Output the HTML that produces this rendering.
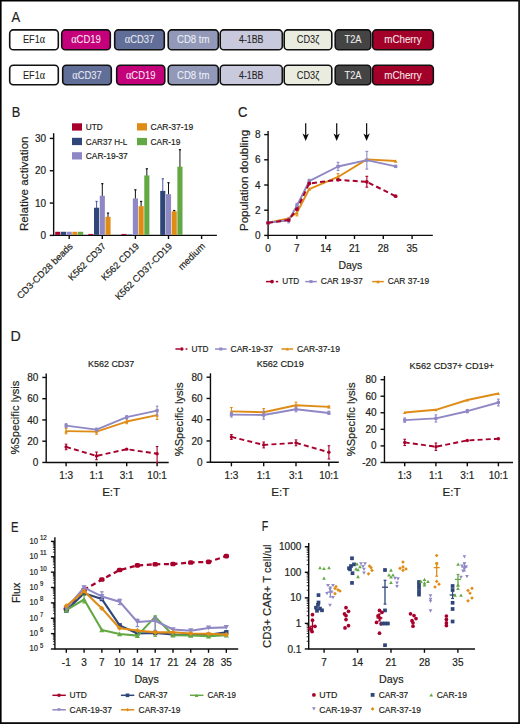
<!DOCTYPE html>
<html><head><meta charset="utf-8"><style>
html,body{margin:0;padding:0;background:#fff;}
svg{display:block;}
text{font-family:"Liberation Sans",sans-serif;}
</style></head><body>
<svg width="520" height="724" viewBox="0 0 520 724" fill="#231f20">
<rect x="0" y="0" width="520" height="724" fill="#fff"/>
<rect x="0.00" y="0.00" width="520.00" height="1.50" fill="#000"/>
<rect x="0.00" y="0.00" width="1.60" height="724.00" fill="#000"/>
<rect x="518.20" y="0.00" width="1.80" height="724.00" fill="#1a1a1a"/>
<rect x="0.00" y="722.20" width="520.00" height="1.80" fill="#0a0a0a"/>
<text x="11.50" y="21.60" font-size="15.2" textLength="8.7" lengthAdjust="spacingAndGlyphs" stroke="#231f20" stroke-width="0.2">A</text>
<text x="11.87" y="117.40" font-size="15.2" textLength="8.56" lengthAdjust="spacingAndGlyphs" stroke="#231f20" stroke-width="0.2">B</text>
<text x="238.05" y="117.40" font-size="15.2" textLength="9.39" lengthAdjust="spacingAndGlyphs" stroke="#231f20" stroke-width="0.2">C</text>
<text x="10.56" y="340.50" font-size="15.2" textLength="10.27" lengthAdjust="spacingAndGlyphs" stroke="#231f20" stroke-width="0.2">D</text>
<text x="11.10" y="531.50" font-size="15.2" textLength="7.5" lengthAdjust="spacingAndGlyphs" stroke="#231f20" stroke-width="0.2">E</text>
<text x="261.85" y="531.40" font-size="15.2" textLength="6.5" lengthAdjust="spacingAndGlyphs" stroke="#231f20" stroke-width="0.2">F</text>
<rect x="9.70" y="29.90" width="48.60" height="19.90" rx="3.6" ry="3.6" fill="#ffffff" stroke="#111" stroke-width="1.6"/>
<text x="34.00" y="43.45" font-size="10.6" text-anchor="middle" textLength="22" lengthAdjust="spacingAndGlyphs" fill="#222" stroke="#222" stroke-width="0.08">EF1<tspan font-family="Liberation Serif" font-size="11.6">&#945;</tspan></text>
<rect x="61.70" y="29.90" width="48.60" height="19.90" rx="3.6" ry="3.6" fill="#c4007a" stroke="#111" stroke-width="1.6"/>
<text x="86.00" y="43.45" font-size="10.6" text-anchor="middle" textLength="29.7" lengthAdjust="spacingAndGlyphs" fill="#f4e6f0" stroke="#f4e6f0" stroke-width="0.08"><tspan font-family="Liberation Serif" font-size="11.6">&#945;</tspan>CD19</text>
<rect x="114.70" y="29.90" width="49.60" height="19.90" rx="3.6" ry="3.6" fill="#606e98" stroke="#111" stroke-width="1.6"/>
<text x="139.50" y="43.45" font-size="10.6" text-anchor="middle" textLength="29.5" lengthAdjust="spacingAndGlyphs" fill="#e8eaf2" stroke="#e8eaf2" stroke-width="0.08"><tspan font-family="Liberation Serif" font-size="11.6">&#945;</tspan>CD37</text>
<rect x="168.20" y="29.90" width="50.10" height="19.90" rx="3.6" ry="3.6" fill="#9198b8" stroke="#111" stroke-width="1.6"/>
<text x="193.25" y="43.45" font-size="10.6" text-anchor="middle" textLength="32.5" lengthAdjust="spacingAndGlyphs" fill="#eef0f6" stroke="#eef0f6" stroke-width="0.08">CD8 tm</text>
<rect x="220.20" y="29.90" width="62.10" height="19.90" rx="3.6" ry="3.6" fill="#c8c9dc" stroke="#111" stroke-width="1.6"/>
<text x="251.25" y="43.45" font-size="10.6" text-anchor="middle" textLength="24.5" lengthAdjust="spacingAndGlyphs" fill="#222" stroke="#222" stroke-width="0.08">4-1BB</text>
<rect x="284.20" y="29.90" width="47.60" height="19.90" rx="3.6" ry="3.6" fill="#ebece0" stroke="#111" stroke-width="1.6"/>
<text x="308.00" y="43.45" font-size="10.6" text-anchor="middle" textLength="22.5" lengthAdjust="spacingAndGlyphs" fill="#222" stroke="#222" stroke-width="0.08">CD3&#950;</text>
<rect x="335.20" y="29.90" width="35.60" height="19.90" rx="3.6" ry="3.6" fill="#444444" stroke="#111" stroke-width="1.6"/>
<text x="353.00" y="43.45" font-size="10.6" text-anchor="middle" textLength="17" lengthAdjust="spacingAndGlyphs" fill="#eee" stroke="#eee" stroke-width="0.08">T2A</text>
<rect x="372.70" y="29.90" width="60.60" height="19.90" rx="3.6" ry="3.6" fill="#a30029" stroke="#111" stroke-width="1.6"/>
<text x="403.00" y="43.45" font-size="10.6" text-anchor="middle" textLength="37.5" lengthAdjust="spacingAndGlyphs" fill="#f6e6ea" stroke="#f6e6ea" stroke-width="0.08">mCherry</text>
<rect x="9.70" y="65.20" width="48.60" height="19.60" rx="3.6" ry="3.6" fill="#ffffff" stroke="#111" stroke-width="1.6"/>
<text x="34.00" y="78.60" font-size="10.6" text-anchor="middle" textLength="22" lengthAdjust="spacingAndGlyphs" fill="#222" stroke="#222" stroke-width="0.08">EF1<tspan font-family="Liberation Serif" font-size="11.6">&#945;</tspan></text>
<rect x="62.70" y="65.20" width="48.60" height="19.60" rx="3.6" ry="3.6" fill="#606e98" stroke="#111" stroke-width="1.6"/>
<text x="87.00" y="78.60" font-size="10.6" text-anchor="middle" textLength="29.5" lengthAdjust="spacingAndGlyphs" fill="#e8eaf2" stroke="#e8eaf2" stroke-width="0.08"><tspan font-family="Liberation Serif" font-size="11.6">&#945;</tspan>CD37</text>
<rect x="116.70" y="65.20" width="48.10" height="19.60" rx="3.6" ry="3.6" fill="#c4007a" stroke="#111" stroke-width="1.6"/>
<text x="140.75" y="78.60" font-size="10.6" text-anchor="middle" textLength="29.7" lengthAdjust="spacingAndGlyphs" fill="#f4e6f0" stroke="#f4e6f0" stroke-width="0.08"><tspan font-family="Liberation Serif" font-size="11.6">&#945;</tspan>CD19</text>
<rect x="168.20" y="65.20" width="50.10" height="19.60" rx="3.6" ry="3.6" fill="#9198b8" stroke="#111" stroke-width="1.6"/>
<text x="193.25" y="78.60" font-size="10.6" text-anchor="middle" textLength="32.5" lengthAdjust="spacingAndGlyphs" fill="#eef0f6" stroke="#eef0f6" stroke-width="0.08">CD8 tm</text>
<rect x="220.20" y="65.20" width="62.10" height="19.60" rx="3.6" ry="3.6" fill="#c8c9dc" stroke="#111" stroke-width="1.6"/>
<text x="251.25" y="78.60" font-size="10.6" text-anchor="middle" textLength="24.5" lengthAdjust="spacingAndGlyphs" fill="#222" stroke="#222" stroke-width="0.08">4-1BB</text>
<rect x="284.20" y="65.20" width="47.60" height="19.60" rx="3.6" ry="3.6" fill="#ebece0" stroke="#111" stroke-width="1.6"/>
<text x="308.00" y="78.60" font-size="10.6" text-anchor="middle" textLength="22.5" lengthAdjust="spacingAndGlyphs" fill="#222" stroke="#222" stroke-width="0.08">CD3&#950;</text>
<rect x="335.20" y="65.20" width="35.60" height="19.60" rx="3.6" ry="3.6" fill="#444444" stroke="#111" stroke-width="1.6"/>
<text x="353.00" y="78.60" font-size="10.6" text-anchor="middle" textLength="17" lengthAdjust="spacingAndGlyphs" fill="#eee" stroke="#eee" stroke-width="0.08">T2A</text>
<rect x="372.70" y="65.20" width="60.60" height="19.60" rx="3.6" ry="3.6" fill="#a30029" stroke="#111" stroke-width="1.6"/>
<text x="403.00" y="78.60" font-size="10.6" text-anchor="middle" textLength="37.5" lengthAdjust="spacingAndGlyphs" fill="#f6e6ea" stroke="#f6e6ea" stroke-width="0.08">mCherry</text>
<rect x="72.00" y="123.30" width="10.00" height="7.30" fill="#a8002c"/>
<text x="85.80" y="130.00" font-size="9.6" textLength="16.9" lengthAdjust="spacingAndGlyphs" stroke="#231f20" stroke-width="0.2">UTD</text>
<rect x="72.00" y="137.80" width="10.00" height="7.30" fill="#2e4678"/>
<text x="85.80" y="144.50" font-size="9.6" textLength="41.4" lengthAdjust="spacingAndGlyphs" stroke="#231f20" stroke-width="0.2">CAR37 H-L</text>
<rect x="72.00" y="152.20" width="10.00" height="7.30" fill="#8f88c4"/>
<text x="85.80" y="158.90" font-size="9.6" textLength="42" lengthAdjust="spacingAndGlyphs" stroke="#231f20" stroke-width="0.2">CAR-19-37</text>
<rect x="137.00" y="123.20" width="10.00" height="7.30" fill="#df8c16"/>
<text x="150.50" y="129.90" font-size="9.6" textLength="42.7" lengthAdjust="spacingAndGlyphs" stroke="#231f20" stroke-width="0.2">CAR-37-19</text>
<rect x="137.00" y="137.90" width="10.00" height="7.30" fill="#64a844"/>
<text x="150.50" y="144.60" font-size="9.6" textLength="29.8" lengthAdjust="spacingAndGlyphs" stroke="#231f20" stroke-width="0.2">CAR-19</text>
<line x1="53.65" y1="133.20" x2="53.65" y2="236.00" stroke="#0c0c0c" stroke-width="1.4"/>
<line x1="53.65" y1="235.30" x2="216.90" y2="235.30" stroke="#0c0c0c" stroke-width="1.3"/>
<line x1="49.75" y1="235.40" x2="53.65" y2="235.40" stroke="#0c0c0c" stroke-width="1.4"/>
<text x="46.05" y="238.95" font-size="10.0" text-anchor="end" stroke="#231f20" stroke-width="0.2">0</text>
<line x1="49.75" y1="203.07" x2="53.65" y2="203.07" stroke="#0c0c0c" stroke-width="1.4"/>
<text x="46.05" y="206.62" font-size="10.0" text-anchor="end" stroke="#231f20" stroke-width="0.2">10</text>
<line x1="49.75" y1="170.74" x2="53.65" y2="170.74" stroke="#0c0c0c" stroke-width="1.4"/>
<text x="46.05" y="174.29" font-size="10.0" text-anchor="end" stroke="#231f20" stroke-width="0.2">20</text>
<line x1="49.75" y1="138.41" x2="53.65" y2="138.41" stroke="#0c0c0c" stroke-width="1.4"/>
<text x="46.05" y="141.96" font-size="10.0" text-anchor="end" stroke="#231f20" stroke-width="0.2">30</text>
<line x1="69.20" y1="235.40" x2="69.20" y2="239.00" stroke="#0c0c0c" stroke-width="1.4"/>
<line x1="102.30" y1="235.40" x2="102.30" y2="239.00" stroke="#0c0c0c" stroke-width="1.4"/>
<line x1="135.40" y1="235.40" x2="135.40" y2="239.00" stroke="#0c0c0c" stroke-width="1.4"/>
<line x1="168.50" y1="235.40" x2="168.50" y2="239.00" stroke="#0c0c0c" stroke-width="1.4"/>
<line x1="201.60" y1="235.40" x2="201.60" y2="239.00" stroke="#0c0c0c" stroke-width="1.4"/>
<rect x="55.20" y="231.76" width="5.12" height="3.14" fill="#a8002c"/>
<rect x="60.92" y="231.76" width="5.12" height="3.14" fill="#2e4678"/>
<rect x="66.64" y="231.76" width="5.12" height="3.14" fill="#8f88c4"/>
<rect x="72.36" y="231.76" width="5.12" height="3.14" fill="#df8c16"/>
<rect x="78.08" y="231.76" width="5.12" height="3.14" fill="#64a844"/>
<rect x="88.30" y="233.93" width="5.12" height="0.97" fill="#a8002c"/>
<line x1="96.58" y1="201.45" x2="96.58" y2="208.24" stroke="#4a5ea8" stroke-width="1"/>
<line x1="95.48" y1="201.45" x2="97.68" y2="201.45" stroke="#4a5ea8" stroke-width="1.2"/>
<rect x="94.02" y="207.74" width="5.12" height="27.16" fill="#2e4678"/>
<line x1="102.30" y1="183.67" x2="102.30" y2="196.28" stroke="#111" stroke-width="1"/>
<line x1="101.20" y1="183.67" x2="103.40" y2="183.67" stroke="#111" stroke-width="1.2"/>
<rect x="99.74" y="195.78" width="5.12" height="39.12" fill="#8f88c4"/>
<line x1="108.02" y1="213.09" x2="108.02" y2="217.30" stroke="#111" stroke-width="1"/>
<line x1="106.92" y1="213.09" x2="109.12" y2="213.09" stroke="#111" stroke-width="1.2"/>
<rect x="105.46" y="216.80" width="5.12" height="18.10" fill="#df8c16"/>
<rect x="121.40" y="233.93" width="5.12" height="0.97" fill="#a8002c"/>
<rect x="127.12" y="234.51" width="5.12" height="0.39" fill="#2e4678"/>
<line x1="135.40" y1="189.81" x2="135.40" y2="198.87" stroke="#111" stroke-width="1"/>
<line x1="134.30" y1="189.81" x2="136.50" y2="189.81" stroke="#111" stroke-width="1.2"/>
<rect x="132.84" y="198.37" width="5.12" height="36.53" fill="#8f88c4"/>
<line x1="141.12" y1="201.45" x2="141.12" y2="206.63" stroke="#111" stroke-width="1"/>
<line x1="140.02" y1="201.45" x2="142.22" y2="201.45" stroke="#111" stroke-width="1.2"/>
<rect x="138.56" y="206.13" width="5.12" height="28.77" fill="#df8c16"/>
<line x1="146.84" y1="168.80" x2="146.84" y2="175.91" stroke="#111" stroke-width="1"/>
<line x1="145.74" y1="168.80" x2="147.94" y2="168.80" stroke="#111" stroke-width="1.2"/>
<rect x="144.28" y="175.41" width="5.12" height="59.49" fill="#64a844"/>
<line x1="162.78" y1="178.82" x2="162.78" y2="191.43" stroke="#4a5ea8" stroke-width="1"/>
<line x1="161.68" y1="178.82" x2="163.88" y2="178.82" stroke="#4a5ea8" stroke-width="1.2"/>
<rect x="160.22" y="190.93" width="5.12" height="43.97" fill="#2e4678"/>
<line x1="168.50" y1="182.70" x2="168.50" y2="194.66" stroke="#111" stroke-width="1"/>
<line x1="167.40" y1="182.70" x2="169.60" y2="182.70" stroke="#111" stroke-width="1.2"/>
<rect x="165.94" y="194.16" width="5.12" height="40.74" fill="#8f88c4"/>
<line x1="174.22" y1="210.51" x2="174.22" y2="211.80" stroke="#111" stroke-width="1"/>
<line x1="173.12" y1="210.51" x2="175.32" y2="210.51" stroke="#111" stroke-width="1.2"/>
<rect x="171.66" y="211.30" width="5.12" height="23.60" fill="#df8c16"/>
<line x1="179.94" y1="149.73" x2="179.94" y2="167.18" stroke="#111" stroke-width="1"/>
<line x1="178.84" y1="149.73" x2="181.04" y2="149.73" stroke="#111" stroke-width="1.2"/>
<rect x="177.38" y="166.68" width="5.12" height="68.22" fill="#64a844"/>
<text x="27.90" y="183.75" font-size="11.6" text-anchor="middle" textLength="94.7" lengthAdjust="spacingAndGlyphs" transform="rotate(-90 27.90 183.75)" stroke="#231f20" stroke-width="0.2">Relative activation</text>
<text x="73.40" y="246.80" font-size="9.45" text-anchor="end" transform="rotate(-45 73.40 246.80)" stroke="#231f20" stroke-width="0.2">CD3-CD28 beads</text>
<text x="106.50" y="246.80" font-size="9.45" text-anchor="end" transform="rotate(-45 106.50 246.80)" stroke="#231f20" stroke-width="0.2">K562 CD37</text>
<text x="139.60" y="246.80" font-size="9.45" text-anchor="end" transform="rotate(-45 139.60 246.80)" stroke="#231f20" stroke-width="0.2">K562 CD19</text>
<text x="172.70" y="246.80" font-size="9.45" text-anchor="end" transform="rotate(-45 172.70 246.80)" stroke="#231f20" stroke-width="0.2">K562 CD37-CD19</text>
<text x="205.80" y="246.80" font-size="9.45" text-anchor="end" transform="rotate(-45 205.80 246.80)" stroke="#231f20" stroke-width="0.2">medium</text>
<line x1="268.10" y1="131.00" x2="268.10" y2="236.00" stroke="#0c0c0c" stroke-width="1.4"/>
<line x1="268.10" y1="235.40" x2="432.80" y2="235.40" stroke="#0c0c0c" stroke-width="1.4"/>
<line x1="264.20" y1="235.40" x2="268.10" y2="235.40" stroke="#0c0c0c" stroke-width="1.4"/>
<text x="260.50" y="238.95" font-size="10.0" text-anchor="end" stroke="#231f20" stroke-width="0.2">0</text>
<line x1="264.20" y1="210.20" x2="268.10" y2="210.20" stroke="#0c0c0c" stroke-width="1.4"/>
<text x="260.50" y="213.75" font-size="10.0" text-anchor="end" stroke="#231f20" stroke-width="0.2">2</text>
<line x1="264.20" y1="185.00" x2="268.10" y2="185.00" stroke="#0c0c0c" stroke-width="1.4"/>
<text x="260.50" y="188.55" font-size="10.0" text-anchor="end" stroke="#231f20" stroke-width="0.2">4</text>
<line x1="264.20" y1="159.80" x2="268.10" y2="159.80" stroke="#0c0c0c" stroke-width="1.4"/>
<text x="260.50" y="163.35" font-size="10.0" text-anchor="end" stroke="#231f20" stroke-width="0.2">6</text>
<line x1="264.20" y1="134.60" x2="268.10" y2="134.60" stroke="#0c0c0c" stroke-width="1.4"/>
<text x="260.50" y="138.15" font-size="10.0" text-anchor="end" stroke="#231f20" stroke-width="0.2">8</text>
<line x1="268.10" y1="235.40" x2="268.10" y2="239.00" stroke="#0c0c0c" stroke-width="1.4"/>
<text x="268.10" y="252.10" font-size="10.0" text-anchor="middle" stroke="#231f20" stroke-width="0.2">0</text>
<line x1="296.90" y1="235.40" x2="296.90" y2="239.00" stroke="#0c0c0c" stroke-width="1.4"/>
<text x="296.90" y="252.10" font-size="10.0" text-anchor="middle" stroke="#231f20" stroke-width="0.2">7</text>
<line x1="325.70" y1="235.40" x2="325.70" y2="239.00" stroke="#0c0c0c" stroke-width="1.4"/>
<text x="325.70" y="252.10" font-size="10.0" text-anchor="middle" stroke="#231f20" stroke-width="0.2">14</text>
<line x1="354.49" y1="235.40" x2="354.49" y2="239.00" stroke="#0c0c0c" stroke-width="1.4"/>
<text x="354.49" y="252.10" font-size="10.0" text-anchor="middle" stroke="#231f20" stroke-width="0.2">21</text>
<line x1="383.29" y1="235.40" x2="383.29" y2="239.00" stroke="#0c0c0c" stroke-width="1.4"/>
<text x="383.29" y="252.10" font-size="10.0" text-anchor="middle" stroke="#231f20" stroke-width="0.2">28</text>
<line x1="412.09" y1="235.40" x2="412.09" y2="239.00" stroke="#0c0c0c" stroke-width="1.4"/>
<text x="412.09" y="252.10" font-size="10.0" text-anchor="middle" stroke="#231f20" stroke-width="0.2">35</text>
<text x="350.40" y="268.80" font-size="11.6" text-anchor="middle" textLength="23.8" lengthAdjust="spacingAndGlyphs" stroke="#231f20" stroke-width="0.2">Days</text>
<text x="248.00" y="180.40" font-size="11.6" text-anchor="middle" textLength="101.2" lengthAdjust="spacingAndGlyphs" transform="rotate(-90 248.00 180.40)" stroke="#231f20" stroke-width="0.2">Population doubling</text>
<line x1="305.70" y1="123.20" x2="305.70" y2="137.00" stroke="#111" stroke-width="1.25"/>
<path d="M302.50,133.4L305.70,135.6L308.90,133.4L305.70,141.1Z" fill="#0a0a0a"/>
<line x1="336.70" y1="123.20" x2="336.70" y2="137.00" stroke="#111" stroke-width="1.25"/>
<path d="M333.50,133.4L336.70,135.6L339.90,133.4L336.70,141.1Z" fill="#0a0a0a"/>
<line x1="366.60" y1="123.20" x2="366.60" y2="137.00" stroke="#111" stroke-width="1.25"/>
<path d="M363.40,133.4L366.60,135.6L369.80,133.4L366.60,141.1Z" fill="#0a0a0a"/>
<line x1="288.67" y1="217.76" x2="288.67" y2="222.80" stroke="#8f88c4" stroke-width="1.1"/>
<line x1="287.27" y1="217.76" x2="290.07" y2="217.76" stroke="#8f88c4" stroke-width="1.1"/>
<line x1="287.27" y1="222.80" x2="290.07" y2="222.80" stroke="#8f88c4" stroke-width="1.1"/>
<line x1="296.90" y1="203.27" x2="296.90" y2="208.31" stroke="#8f88c4" stroke-width="1.1"/>
<line x1="295.50" y1="203.27" x2="298.30" y2="203.27" stroke="#8f88c4" stroke-width="1.1"/>
<line x1="295.50" y1="208.31" x2="298.30" y2="208.31" stroke="#8f88c4" stroke-width="1.1"/>
<line x1="309.24" y1="179.33" x2="309.24" y2="183.11" stroke="#8f88c4" stroke-width="1.1"/>
<line x1="307.84" y1="179.33" x2="310.64" y2="179.33" stroke="#8f88c4" stroke-width="1.1"/>
<line x1="307.84" y1="183.11" x2="310.64" y2="183.11" stroke="#8f88c4" stroke-width="1.1"/>
<line x1="338.04" y1="162.32" x2="338.04" y2="170.51" stroke="#8f88c4" stroke-width="1.1"/>
<line x1="336.64" y1="162.32" x2="339.44" y2="162.32" stroke="#8f88c4" stroke-width="1.1"/>
<line x1="336.64" y1="170.51" x2="339.44" y2="170.51" stroke="#8f88c4" stroke-width="1.1"/>
<line x1="366.84" y1="151.36" x2="366.84" y2="169.12" stroke="#8f88c4" stroke-width="1.1"/>
<line x1="365.44" y1="151.36" x2="368.24" y2="151.36" stroke="#8f88c4" stroke-width="1.1"/>
<line x1="365.44" y1="169.12" x2="368.24" y2="169.12" stroke="#8f88c4" stroke-width="1.1"/>
<line x1="296.90" y1="210.20" x2="296.90" y2="215.87" stroke="#df8c16" stroke-width="1.1"/>
<line x1="295.50" y1="210.20" x2="298.30" y2="210.20" stroke="#df8c16" stroke-width="1.1"/>
<line x1="295.50" y1="215.87" x2="298.30" y2="215.87" stroke="#df8c16" stroke-width="1.1"/>
<line x1="338.04" y1="173.66" x2="338.04" y2="178.70" stroke="#df8c16" stroke-width="1.1"/>
<line x1="336.64" y1="173.66" x2="339.44" y2="173.66" stroke="#df8c16" stroke-width="1.1"/>
<line x1="336.64" y1="178.70" x2="339.44" y2="178.70" stroke="#df8c16" stroke-width="1.1"/>
<line x1="366.84" y1="176.31" x2="366.84" y2="187.14" stroke="#a8002c" stroke-width="1.1"/>
<line x1="365.44" y1="176.31" x2="368.24" y2="176.31" stroke="#a8002c" stroke-width="1.1"/>
<line x1="365.44" y1="187.14" x2="368.24" y2="187.14" stroke="#a8002c" stroke-width="1.1"/>
<polyline points="268.10,222.80 288.67,218.39 296.90,212.72 309.24,189.03 338.04,176.94 366.84,159.42 395.63,161.06" fill="none" stroke="#df8c16" stroke-width="1.9" stroke-linejoin="round"/>
<polyline points="268.10,222.80 288.67,220.28 296.90,205.79 309.24,181.22 338.04,166.48 366.84,160.18 395.63,166.35" fill="none" stroke="#8f88c4" stroke-width="1.9" stroke-linejoin="round"/>
<polyline points="268.10,222.80 288.67,220.03 296.90,209.19 309.24,183.49 338.04,179.83 366.84,181.85 395.63,196.21" fill="none" stroke="#a8002c" stroke-width="2.0" stroke-linejoin="round" stroke-dasharray="5,3.2"/>
<path d="M266.20,224.51L270.00,224.51L268.10,221.09Z" fill="#df8c16"/>
<path d="M286.77,220.10L290.57,220.10L288.67,216.68Z" fill="#df8c16"/>
<path d="M295.00,214.43L298.80,214.43L296.90,211.01Z" fill="#df8c16"/>
<path d="M307.34,190.74L311.14,190.74L309.24,187.32Z" fill="#df8c16"/>
<path d="M336.14,178.65L339.94,178.65L338.04,175.23Z" fill="#df8c16"/>
<path d="M364.94,161.13L368.74,161.13L366.84,157.71Z" fill="#df8c16"/>
<path d="M393.73,162.77L397.53,162.77L395.63,159.35Z" fill="#df8c16"/>
<rect x="266.40" y="221.10" width="3.40" height="3.40" fill="#8f88c4"/>
<rect x="286.97" y="218.58" width="3.40" height="3.40" fill="#8f88c4"/>
<rect x="295.20" y="204.09" width="3.40" height="3.40" fill="#8f88c4"/>
<rect x="307.54" y="179.52" width="3.40" height="3.40" fill="#8f88c4"/>
<rect x="336.34" y="164.78" width="3.40" height="3.40" fill="#8f88c4"/>
<rect x="365.14" y="158.48" width="3.40" height="3.40" fill="#8f88c4"/>
<rect x="393.93" y="164.65" width="3.40" height="3.40" fill="#8f88c4"/>
<circle cx="268.10" cy="222.80" r="1.90" fill="#a8002c"/>
<circle cx="288.67" cy="220.03" r="1.90" fill="#a8002c"/>
<circle cx="296.90" cy="209.19" r="1.90" fill="#a8002c"/>
<circle cx="309.24" cy="183.49" r="1.90" fill="#a8002c"/>
<circle cx="338.04" cy="179.83" r="1.90" fill="#a8002c"/>
<circle cx="366.84" cy="181.85" r="1.90" fill="#a8002c"/>
<circle cx="395.63" cy="196.21" r="1.90" fill="#a8002c"/>
<line x1="266.00" y1="281.60" x2="271.00" y2="281.60" stroke="#a8002c" stroke-width="1.5"/>
<circle cx="272" cy="281.6" r="1.9" fill="#a8002c"/>
<line x1="275.80" y1="281.60" x2="278.20" y2="281.60" stroke="#a8002c" stroke-width="1.5"/>
<text x="282.20" y="284.10" font-size="9.6" textLength="16.9" lengthAdjust="spacingAndGlyphs" stroke="#231f20" stroke-width="0.2">UTD</text>
<line x1="305.30" y1="281.60" x2="316.80" y2="281.60" stroke="#8f88c4" stroke-width="1.5"/>
<rect x="309.50" y="280.10" width="3.00" height="3.00" fill="#8f88c4"/>
<text x="320.80" y="284.10" font-size="9.6" textLength="42" lengthAdjust="spacingAndGlyphs" stroke="#231f20" stroke-width="0.2">CAR 19-37</text>
<line x1="372.20" y1="281.60" x2="383.80" y2="281.60" stroke="#df8c16" stroke-width="1.5"/>
<path d="M376.30,283.13L379.70,283.13L378.00,280.07Z" fill="#df8c16"/>
<text x="387.70" y="284.10" font-size="9.6" textLength="41.5" lengthAdjust="spacingAndGlyphs" stroke="#231f20" stroke-width="0.2">CAR 37-19</text>
<line x1="175.40" y1="349.00" x2="180.20" y2="349.00" stroke="#a8002c" stroke-width="1.5"/>
<circle cx="181.8" cy="349.0" r="1.8" fill="#a8002c"/>
<line x1="185.60" y1="349.00" x2="187.40" y2="349.00" stroke="#a8002c" stroke-width="1.5"/>
<text x="191.50" y="352.00" font-size="9.6" textLength="17" lengthAdjust="spacingAndGlyphs" stroke="#231f20" stroke-width="0.2">UTD</text>
<line x1="215.00" y1="349.00" x2="226.50" y2="349.00" stroke="#8f88c4" stroke-width="1.5"/>
<rect x="219.30" y="347.50" width="3.00" height="3.00" fill="#8f88c4"/>
<text x="230.60" y="352.00" font-size="9.6" textLength="42.4" lengthAdjust="spacingAndGlyphs" stroke="#231f20" stroke-width="0.2">CAR-19-37</text>
<line x1="281.40" y1="349.00" x2="293.10" y2="349.00" stroke="#df8c16" stroke-width="1.5"/>
<path d="M285.70,350.44L288.90,350.44L287.30,347.56Z" fill="#df8c16"/>
<text x="297.10" y="352.00" font-size="9.6" textLength="42.8" lengthAdjust="spacingAndGlyphs" stroke="#231f20" stroke-width="0.2">CAR-37-19</text>
<line x1="46.20" y1="373.50" x2="46.20" y2="463.05" stroke="#0c0c0c" stroke-width="1.4"/>
<line x1="46.20" y1="462.45" x2="168.70" y2="462.45" stroke="#0c0c0c" stroke-width="1.4"/>
<line x1="42.30" y1="462.45" x2="46.20" y2="462.45" stroke="#0c0c0c" stroke-width="1.4"/>
<text x="38.40" y="466.00" font-size="10.0" text-anchor="end" stroke="#231f20" stroke-width="0.2">0</text>
<line x1="42.30" y1="441.20" x2="46.20" y2="441.20" stroke="#0c0c0c" stroke-width="1.4"/>
<text x="38.40" y="444.75" font-size="10.0" text-anchor="end" stroke="#231f20" stroke-width="0.2">20</text>
<line x1="42.30" y1="419.95" x2="46.20" y2="419.95" stroke="#0c0c0c" stroke-width="1.4"/>
<text x="38.40" y="423.50" font-size="10.0" text-anchor="end" stroke="#231f20" stroke-width="0.2">40</text>
<line x1="42.30" y1="398.70" x2="46.20" y2="398.70" stroke="#0c0c0c" stroke-width="1.4"/>
<text x="38.40" y="402.25" font-size="10.0" text-anchor="end" stroke="#231f20" stroke-width="0.2">60</text>
<line x1="42.30" y1="377.45" x2="46.20" y2="377.45" stroke="#0c0c0c" stroke-width="1.4"/>
<text x="38.40" y="381.00" font-size="10.0" text-anchor="end" stroke="#231f20" stroke-width="0.2">80</text>
<line x1="66.10" y1="462.45" x2="66.10" y2="466.30" stroke="#0c0c0c" stroke-width="1.4"/>
<text x="66.10" y="478.80" font-size="10.0" text-anchor="middle" stroke="#231f20" stroke-width="0.2">1:3</text>
<line x1="96.50" y1="462.45" x2="96.50" y2="466.30" stroke="#0c0c0c" stroke-width="1.4"/>
<text x="96.50" y="478.80" font-size="10.0" text-anchor="middle" stroke="#231f20" stroke-width="0.2">1:1</text>
<line x1="126.70" y1="462.45" x2="126.70" y2="466.30" stroke="#0c0c0c" stroke-width="1.4"/>
<text x="126.70" y="478.80" font-size="10.0" text-anchor="middle" stroke="#231f20" stroke-width="0.2">3:1</text>
<line x1="157.10" y1="462.45" x2="157.10" y2="466.30" stroke="#0c0c0c" stroke-width="1.4"/>
<text x="157.10" y="478.80" font-size="10.0" text-anchor="middle" stroke="#231f20" stroke-width="0.2">10:1</text>
<text x="111.15" y="366.90" font-size="9.7" text-anchor="middle" textLength="46.1" lengthAdjust="spacingAndGlyphs" stroke="#231f20" stroke-width="0.2">K562 CD37</text>
<text x="111.15" y="496.00" font-size="11.6" text-anchor="middle" stroke="#231f20" stroke-width="0.2">E:T</text>
<text x="18.90" y="417.60" font-size="11.6" text-anchor="middle" textLength="74" lengthAdjust="spacingAndGlyphs" transform="rotate(-90 18.90 417.60)" stroke="#231f20" stroke-width="0.2">%Specific lysis</text>
<line x1="66.10" y1="428.45" x2="66.10" y2="433.76" stroke="#df8c16" stroke-width="1.1"/>
<line x1="64.80" y1="428.45" x2="67.40" y2="428.45" stroke="#df8c16" stroke-width="1.1"/>
<line x1="64.80" y1="433.76" x2="67.40" y2="433.76" stroke="#df8c16" stroke-width="1.1"/>
<line x1="96.50" y1="428.98" x2="96.50" y2="434.29" stroke="#df8c16" stroke-width="1.1"/>
<line x1="95.20" y1="428.98" x2="97.80" y2="428.98" stroke="#df8c16" stroke-width="1.1"/>
<line x1="95.20" y1="434.29" x2="97.80" y2="434.29" stroke="#df8c16" stroke-width="1.1"/>
<line x1="126.70" y1="418.89" x2="126.70" y2="423.67" stroke="#df8c16" stroke-width="1.1"/>
<line x1="125.40" y1="418.89" x2="128.00" y2="418.89" stroke="#df8c16" stroke-width="1.1"/>
<line x1="125.40" y1="423.67" x2="128.00" y2="423.67" stroke="#df8c16" stroke-width="1.1"/>
<line x1="157.10" y1="410.39" x2="157.10" y2="419.42" stroke="#df8c16" stroke-width="1.1"/>
<line x1="155.80" y1="410.39" x2="158.40" y2="410.39" stroke="#df8c16" stroke-width="1.1"/>
<line x1="155.80" y1="419.42" x2="158.40" y2="419.42" stroke="#df8c16" stroke-width="1.1"/>
<polyline points="66.10,431.11 96.50,431.64 126.70,421.54 157.10,415.17" fill="none" stroke="#df8c16" stroke-width="1.9" stroke-linejoin="round"/>
<path d="M64.40,432.64L67.80,432.64L66.10,429.58Z" fill="#df8c16"/>
<path d="M94.80,433.17L98.20,433.17L96.50,430.11Z" fill="#df8c16"/>
<path d="M125.00,423.07L128.40,423.07L126.70,420.01Z" fill="#df8c16"/>
<path d="M155.40,416.70L158.80,416.70L157.10,413.64Z" fill="#df8c16"/>
<line x1="66.10" y1="423.67" x2="66.10" y2="427.39" stroke="#8f88c4" stroke-width="1.1"/>
<line x1="64.80" y1="423.67" x2="67.40" y2="423.67" stroke="#8f88c4" stroke-width="1.1"/>
<line x1="64.80" y1="427.39" x2="67.40" y2="427.39" stroke="#8f88c4" stroke-width="1.1"/>
<line x1="96.50" y1="428.13" x2="96.50" y2="431.11" stroke="#8f88c4" stroke-width="1.1"/>
<line x1="95.20" y1="428.13" x2="97.80" y2="428.13" stroke="#8f88c4" stroke-width="1.1"/>
<line x1="95.20" y1="431.11" x2="97.80" y2="431.11" stroke="#8f88c4" stroke-width="1.1"/>
<line x1="126.70" y1="415.70" x2="126.70" y2="418.89" stroke="#8f88c4" stroke-width="1.1"/>
<line x1="125.40" y1="415.70" x2="128.00" y2="415.70" stroke="#8f88c4" stroke-width="1.1"/>
<line x1="125.40" y1="418.89" x2="128.00" y2="418.89" stroke="#8f88c4" stroke-width="1.1"/>
<line x1="157.10" y1="406.14" x2="157.10" y2="415.17" stroke="#8f88c4" stroke-width="1.1"/>
<line x1="155.80" y1="406.14" x2="158.40" y2="406.14" stroke="#8f88c4" stroke-width="1.1"/>
<line x1="155.80" y1="415.17" x2="158.40" y2="415.17" stroke="#8f88c4" stroke-width="1.1"/>
<polyline points="66.10,425.58 96.50,429.62 126.70,417.19 157.10,410.60" fill="none" stroke="#8f88c4" stroke-width="1.9" stroke-linejoin="round"/>
<rect x="64.50" y="423.98" width="3.20" height="3.20" fill="#8f88c4"/>
<rect x="94.90" y="428.02" width="3.20" height="3.20" fill="#8f88c4"/>
<rect x="125.10" y="415.59" width="3.20" height="3.20" fill="#8f88c4"/>
<rect x="155.50" y="409.00" width="3.20" height="3.20" fill="#8f88c4"/>
<line x1="66.10" y1="444.18" x2="66.10" y2="449.70" stroke="#a8002c" stroke-width="1.1"/>
<line x1="64.80" y1="444.18" x2="67.40" y2="444.18" stroke="#a8002c" stroke-width="1.1"/>
<line x1="64.80" y1="449.70" x2="67.40" y2="449.70" stroke="#a8002c" stroke-width="1.1"/>
<line x1="96.50" y1="452.04" x2="96.50" y2="459.69" stroke="#a8002c" stroke-width="1.1"/>
<line x1="95.20" y1="452.04" x2="97.80" y2="452.04" stroke="#a8002c" stroke-width="1.1"/>
<line x1="95.20" y1="459.69" x2="97.80" y2="459.69" stroke="#a8002c" stroke-width="1.1"/>
<line x1="157.10" y1="446.51" x2="157.10" y2="462.45" stroke="#a8002c" stroke-width="1.1"/>
<line x1="155.80" y1="446.51" x2="158.40" y2="446.51" stroke="#a8002c" stroke-width="1.1"/>
<line x1="155.80" y1="462.45" x2="158.40" y2="462.45" stroke="#a8002c" stroke-width="1.1"/>
<polyline points="66.10,446.94 96.50,455.97 126.70,449.17 157.10,453.74" fill="none" stroke="#a8002c" stroke-width="1.9" stroke-linejoin="round" stroke-dasharray="5,3.2"/>
<circle cx="66.10" cy="446.94" r="1.70" fill="#a8002c"/>
<circle cx="96.50" cy="455.97" r="1.70" fill="#a8002c"/>
<circle cx="126.70" cy="449.17" r="1.70" fill="#a8002c"/>
<circle cx="157.10" cy="453.74" r="1.70" fill="#a8002c"/>
<line x1="210.45" y1="373.30" x2="210.45" y2="462.80" stroke="#0c0c0c" stroke-width="1.4"/>
<line x1="210.45" y1="462.20" x2="338.80" y2="462.20" stroke="#0c0c0c" stroke-width="1.4"/>
<line x1="206.55" y1="462.20" x2="210.45" y2="462.20" stroke="#0c0c0c" stroke-width="1.4"/>
<text x="202.65" y="465.75" font-size="10.0" text-anchor="end" stroke="#231f20" stroke-width="0.2">0</text>
<line x1="206.55" y1="440.95" x2="210.45" y2="440.95" stroke="#0c0c0c" stroke-width="1.4"/>
<text x="202.65" y="444.50" font-size="10.0" text-anchor="end" stroke="#231f20" stroke-width="0.2">20</text>
<line x1="206.55" y1="419.70" x2="210.45" y2="419.70" stroke="#0c0c0c" stroke-width="1.4"/>
<text x="202.65" y="423.25" font-size="10.0" text-anchor="end" stroke="#231f20" stroke-width="0.2">40</text>
<line x1="206.55" y1="398.45" x2="210.45" y2="398.45" stroke="#0c0c0c" stroke-width="1.4"/>
<text x="202.65" y="402.00" font-size="10.0" text-anchor="end" stroke="#231f20" stroke-width="0.2">60</text>
<line x1="206.55" y1="377.20" x2="210.45" y2="377.20" stroke="#0c0c0c" stroke-width="1.4"/>
<text x="202.65" y="380.75" font-size="10.0" text-anchor="end" stroke="#231f20" stroke-width="0.2">80</text>
<line x1="231.40" y1="462.20" x2="231.40" y2="466.30" stroke="#0c0c0c" stroke-width="1.4"/>
<text x="231.40" y="478.80" font-size="10.0" text-anchor="middle" stroke="#231f20" stroke-width="0.2">1:3</text>
<line x1="263.70" y1="462.20" x2="263.70" y2="466.30" stroke="#0c0c0c" stroke-width="1.4"/>
<text x="263.70" y="478.80" font-size="10.0" text-anchor="middle" stroke="#231f20" stroke-width="0.2">1:1</text>
<line x1="296.00" y1="462.20" x2="296.00" y2="466.30" stroke="#0c0c0c" stroke-width="1.4"/>
<text x="296.00" y="478.80" font-size="10.0" text-anchor="middle" stroke="#231f20" stroke-width="0.2">3:1</text>
<line x1="328.90" y1="462.20" x2="328.90" y2="466.30" stroke="#0c0c0c" stroke-width="1.4"/>
<text x="328.90" y="478.80" font-size="10.0" text-anchor="middle" stroke="#231f20" stroke-width="0.2">10:1</text>
<text x="280.20" y="366.90" font-size="9.7" text-anchor="middle" textLength="47.1" lengthAdjust="spacingAndGlyphs" stroke="#231f20" stroke-width="0.2">K562 CD19</text>
<text x="280.20" y="496.00" font-size="11.6" text-anchor="middle" stroke="#231f20" stroke-width="0.2">E:T</text>
<text x="182.90" y="419.30" font-size="11.6" text-anchor="middle" textLength="74" lengthAdjust="spacingAndGlyphs" transform="rotate(-90 182.90 419.30)" stroke="#231f20" stroke-width="0.2">%Specific lysis</text>
<line x1="231.40" y1="407.48" x2="231.40" y2="415.45" stroke="#df8c16" stroke-width="1.1"/>
<line x1="230.10" y1="407.48" x2="232.70" y2="407.48" stroke="#df8c16" stroke-width="1.1"/>
<line x1="230.10" y1="415.45" x2="232.70" y2="415.45" stroke="#df8c16" stroke-width="1.1"/>
<line x1="263.70" y1="408.54" x2="263.70" y2="415.98" stroke="#df8c16" stroke-width="1.1"/>
<line x1="262.40" y1="408.54" x2="265.00" y2="408.54" stroke="#df8c16" stroke-width="1.1"/>
<line x1="262.40" y1="415.98" x2="265.00" y2="415.98" stroke="#df8c16" stroke-width="1.1"/>
<line x1="296.00" y1="402.17" x2="296.00" y2="408.01" stroke="#df8c16" stroke-width="1.1"/>
<line x1="294.70" y1="402.17" x2="297.30" y2="402.17" stroke="#df8c16" stroke-width="1.1"/>
<line x1="294.70" y1="408.01" x2="297.30" y2="408.01" stroke="#df8c16" stroke-width="1.1"/>
<line x1="328.90" y1="405.89" x2="328.90" y2="408.01" stroke="#df8c16" stroke-width="1.1"/>
<line x1="327.60" y1="405.89" x2="330.20" y2="405.89" stroke="#df8c16" stroke-width="1.1"/>
<line x1="327.60" y1="408.01" x2="330.20" y2="408.01" stroke="#df8c16" stroke-width="1.1"/>
<polyline points="231.40,411.41 263.70,412.26 296.00,405.25 328.90,406.84" fill="none" stroke="#df8c16" stroke-width="1.9" stroke-linejoin="round"/>
<path d="M229.70,412.94L233.10,412.94L231.40,409.88Z" fill="#df8c16"/>
<path d="M262.00,413.79L265.40,413.79L263.70,410.73Z" fill="#df8c16"/>
<path d="M294.30,406.78L297.70,406.78L296.00,403.72Z" fill="#df8c16"/>
<path d="M327.20,408.37L330.60,408.37L328.90,405.31Z" fill="#df8c16"/>
<line x1="231.40" y1="412.26" x2="231.40" y2="417.04" stroke="#8f88c4" stroke-width="1.1"/>
<line x1="230.10" y1="412.26" x2="232.70" y2="412.26" stroke="#8f88c4" stroke-width="1.1"/>
<line x1="230.10" y1="417.04" x2="232.70" y2="417.04" stroke="#8f88c4" stroke-width="1.1"/>
<line x1="263.70" y1="411.20" x2="263.70" y2="419.17" stroke="#8f88c4" stroke-width="1.1"/>
<line x1="262.40" y1="411.20" x2="265.00" y2="411.20" stroke="#8f88c4" stroke-width="1.1"/>
<line x1="262.40" y1="419.17" x2="265.00" y2="419.17" stroke="#8f88c4" stroke-width="1.1"/>
<line x1="296.00" y1="406.95" x2="296.00" y2="411.73" stroke="#8f88c4" stroke-width="1.1"/>
<line x1="294.70" y1="406.95" x2="297.30" y2="406.95" stroke="#8f88c4" stroke-width="1.1"/>
<line x1="294.70" y1="411.73" x2="297.30" y2="411.73" stroke="#8f88c4" stroke-width="1.1"/>
<line x1="328.90" y1="411.20" x2="328.90" y2="414.39" stroke="#8f88c4" stroke-width="1.1"/>
<line x1="327.60" y1="411.20" x2="330.20" y2="411.20" stroke="#8f88c4" stroke-width="1.1"/>
<line x1="327.60" y1="414.39" x2="330.20" y2="414.39" stroke="#8f88c4" stroke-width="1.1"/>
<polyline points="231.40,414.60 263.70,415.02 296.00,409.29 328.90,413.01" fill="none" stroke="#8f88c4" stroke-width="1.9" stroke-linejoin="round"/>
<rect x="229.80" y="413.00" width="3.20" height="3.20" fill="#8f88c4"/>
<rect x="262.10" y="413.42" width="3.20" height="3.20" fill="#8f88c4"/>
<rect x="294.40" y="407.69" width="3.20" height="3.20" fill="#8f88c4"/>
<rect x="327.30" y="411.41" width="3.20" height="3.20" fill="#8f88c4"/>
<line x1="231.40" y1="434.57" x2="231.40" y2="439.36" stroke="#a8002c" stroke-width="1.1"/>
<line x1="230.10" y1="434.57" x2="232.70" y2="434.57" stroke="#a8002c" stroke-width="1.1"/>
<line x1="230.10" y1="439.36" x2="232.70" y2="439.36" stroke="#a8002c" stroke-width="1.1"/>
<line x1="263.70" y1="442.01" x2="263.70" y2="447.86" stroke="#a8002c" stroke-width="1.1"/>
<line x1="262.40" y1="442.01" x2="265.00" y2="442.01" stroke="#a8002c" stroke-width="1.1"/>
<line x1="262.40" y1="447.86" x2="265.00" y2="447.86" stroke="#a8002c" stroke-width="1.1"/>
<line x1="296.00" y1="439.89" x2="296.00" y2="445.73" stroke="#a8002c" stroke-width="1.1"/>
<line x1="294.70" y1="439.89" x2="297.30" y2="439.89" stroke="#a8002c" stroke-width="1.1"/>
<line x1="294.70" y1="445.73" x2="297.30" y2="445.73" stroke="#a8002c" stroke-width="1.1"/>
<line x1="328.90" y1="445.73" x2="328.90" y2="459.01" stroke="#a8002c" stroke-width="1.1"/>
<line x1="327.60" y1="445.73" x2="330.20" y2="445.73" stroke="#a8002c" stroke-width="1.1"/>
<line x1="327.60" y1="459.01" x2="330.20" y2="459.01" stroke="#a8002c" stroke-width="1.1"/>
<polyline points="231.40,436.91 263.70,444.88 296.00,442.86 328.90,452.32" fill="none" stroke="#a8002c" stroke-width="1.9" stroke-linejoin="round" stroke-dasharray="5,3.2"/>
<circle cx="231.40" cy="436.91" r="1.70" fill="#a8002c"/>
<circle cx="263.70" cy="444.88" r="1.70" fill="#a8002c"/>
<circle cx="296.00" cy="442.86" r="1.70" fill="#a8002c"/>
<circle cx="328.90" cy="452.32" r="1.70" fill="#a8002c"/>
<line x1="384.45" y1="376.00" x2="384.45" y2="463.05" stroke="#0c0c0c" stroke-width="1.4"/>
<line x1="384.45" y1="462.45" x2="513.00" y2="462.45" stroke="#0c0c0c" stroke-width="1.4"/>
<line x1="380.55" y1="462.46" x2="384.45" y2="462.46" stroke="#0c0c0c" stroke-width="1.4"/>
<text x="376.65" y="466.01" font-size="10.0" text-anchor="end" stroke="#231f20" stroke-width="0.2">-20</text>
<line x1="380.55" y1="445.90" x2="384.45" y2="445.90" stroke="#0c0c0c" stroke-width="1.4"/>
<text x="376.65" y="449.45" font-size="10.0" text-anchor="end" stroke="#231f20" stroke-width="0.2">0</text>
<line x1="380.55" y1="429.34" x2="384.45" y2="429.34" stroke="#0c0c0c" stroke-width="1.4"/>
<text x="376.65" y="432.89" font-size="10.0" text-anchor="end" stroke="#231f20" stroke-width="0.2">20</text>
<line x1="380.55" y1="412.78" x2="384.45" y2="412.78" stroke="#0c0c0c" stroke-width="1.4"/>
<text x="376.65" y="416.33" font-size="10.0" text-anchor="end" stroke="#231f20" stroke-width="0.2">40</text>
<line x1="380.55" y1="396.22" x2="384.45" y2="396.22" stroke="#0c0c0c" stroke-width="1.4"/>
<text x="376.65" y="399.77" font-size="10.0" text-anchor="end" stroke="#231f20" stroke-width="0.2">60</text>
<line x1="380.55" y1="379.66" x2="384.45" y2="379.66" stroke="#0c0c0c" stroke-width="1.4"/>
<text x="376.65" y="383.21" font-size="10.0" text-anchor="end" stroke="#231f20" stroke-width="0.2">80</text>
<line x1="404.70" y1="462.45" x2="404.70" y2="466.30" stroke="#0c0c0c" stroke-width="1.4"/>
<text x="404.70" y="478.80" font-size="10.0" text-anchor="middle" stroke="#231f20" stroke-width="0.2">1:3</text>
<line x1="435.90" y1="462.45" x2="435.90" y2="466.30" stroke="#0c0c0c" stroke-width="1.4"/>
<text x="435.90" y="478.80" font-size="10.0" text-anchor="middle" stroke="#231f20" stroke-width="0.2">1:1</text>
<line x1="467.30" y1="462.45" x2="467.30" y2="466.30" stroke="#0c0c0c" stroke-width="1.4"/>
<text x="467.30" y="478.80" font-size="10.0" text-anchor="middle" stroke="#231f20" stroke-width="0.2">3:1</text>
<line x1="498.40" y1="462.45" x2="498.40" y2="466.30" stroke="#0c0c0c" stroke-width="1.4"/>
<text x="498.40" y="478.80" font-size="10.0" text-anchor="middle" stroke="#231f20" stroke-width="0.2">10:1</text>
<text x="451.90" y="369.40" font-size="9.7" text-anchor="middle" textLength="84.6" lengthAdjust="spacingAndGlyphs" stroke="#231f20" stroke-width="0.2">K562 CD37+ CD19+</text>
<text x="451.60" y="496.00" font-size="11.6" text-anchor="middle" stroke="#231f20" stroke-width="0.2">E:T</text>
<text x="355.00" y="419.30" font-size="11.6" text-anchor="middle" textLength="74" lengthAdjust="spacingAndGlyphs" transform="rotate(-90 355.00 419.30)" stroke="#231f20" stroke-width="0.2">%Specific lysis</text>
<polyline points="404.70,412.45 435.90,409.80 467.30,400.03 498.40,393.49" fill="none" stroke="#df8c16" stroke-width="1.9" stroke-linejoin="round"/>
<path d="M403.00,413.98L406.40,413.98L404.70,410.92Z" fill="#df8c16"/>
<path d="M434.20,411.33L437.60,411.33L435.90,408.27Z" fill="#df8c16"/>
<path d="M465.60,401.56L469.00,401.56L467.30,398.50Z" fill="#df8c16"/>
<path d="M496.70,395.02L500.10,395.02L498.40,391.96Z" fill="#df8c16"/>
<line x1="404.70" y1="418.00" x2="404.70" y2="422.30" stroke="#8f88c4" stroke-width="1.1"/>
<line x1="403.40" y1="418.00" x2="406.00" y2="418.00" stroke="#8f88c4" stroke-width="1.1"/>
<line x1="403.40" y1="422.30" x2="406.00" y2="422.30" stroke="#8f88c4" stroke-width="1.1"/>
<line x1="435.90" y1="414.85" x2="435.90" y2="422.05" stroke="#8f88c4" stroke-width="1.1"/>
<line x1="434.60" y1="414.85" x2="437.20" y2="414.85" stroke="#8f88c4" stroke-width="1.1"/>
<line x1="434.60" y1="422.05" x2="437.20" y2="422.05" stroke="#8f88c4" stroke-width="1.1"/>
<line x1="467.30" y1="409.47" x2="467.30" y2="412.78" stroke="#8f88c4" stroke-width="1.1"/>
<line x1="466.00" y1="409.47" x2="468.60" y2="409.47" stroke="#8f88c4" stroke-width="1.1"/>
<line x1="466.00" y1="412.78" x2="468.60" y2="412.78" stroke="#8f88c4" stroke-width="1.1"/>
<line x1="498.40" y1="399.12" x2="498.40" y2="405.91" stroke="#8f88c4" stroke-width="1.1"/>
<line x1="497.10" y1="399.12" x2="499.70" y2="399.12" stroke="#8f88c4" stroke-width="1.1"/>
<line x1="497.10" y1="405.91" x2="499.70" y2="405.91" stroke="#8f88c4" stroke-width="1.1"/>
<polyline points="404.70,420.15 435.90,418.41 467.30,411.21 498.40,402.51" fill="none" stroke="#8f88c4" stroke-width="1.9" stroke-linejoin="round"/>
<rect x="403.10" y="418.55" width="3.20" height="3.20" fill="#8f88c4"/>
<rect x="434.30" y="416.81" width="3.20" height="3.20" fill="#8f88c4"/>
<rect x="465.70" y="409.61" width="3.20" height="3.20" fill="#8f88c4"/>
<rect x="496.80" y="400.91" width="3.20" height="3.20" fill="#8f88c4"/>
<line x1="404.70" y1="439.28" x2="404.70" y2="445.49" stroke="#a8002c" stroke-width="1.1"/>
<line x1="403.40" y1="439.28" x2="406.00" y2="439.28" stroke="#a8002c" stroke-width="1.1"/>
<line x1="403.40" y1="445.49" x2="406.00" y2="445.49" stroke="#a8002c" stroke-width="1.1"/>
<line x1="435.90" y1="443.00" x2="435.90" y2="450.45" stroke="#a8002c" stroke-width="1.1"/>
<line x1="434.60" y1="443.00" x2="437.20" y2="443.00" stroke="#a8002c" stroke-width="1.1"/>
<line x1="434.60" y1="450.45" x2="437.20" y2="450.45" stroke="#a8002c" stroke-width="1.1"/>
<polyline points="404.70,442.42 435.90,446.73 467.30,440.44 498.40,438.70" fill="none" stroke="#a8002c" stroke-width="1.9" stroke-linejoin="round" stroke-dasharray="5,3.2"/>
<circle cx="404.70" cy="442.42" r="1.70" fill="#a8002c"/>
<circle cx="435.90" cy="446.73" r="1.70" fill="#a8002c"/>
<circle cx="467.30" cy="440.44" r="1.70" fill="#a8002c"/>
<circle cx="498.40" cy="438.70" r="1.70" fill="#a8002c"/>
<line x1="54.90" y1="537.30" x2="54.90" y2="649.60" stroke="#0c0c0c" stroke-width="1.4"/>
<line x1="54.90" y1="649.00" x2="238.20" y2="649.00" stroke="#0c0c0c" stroke-width="1.4"/>
<line x1="50.90" y1="649.00" x2="54.90" y2="649.00" stroke="#0c0c0c" stroke-width="1.4"/>
<text x="37.90" y="651.40" font-size="9.200000000000001" text-anchor="end" textLength="8.5" lengthAdjust="spacingAndGlyphs" stroke="#231f20" stroke-width="0.2">10</text>
<text x="39.90" y="647.60" font-size="6.8" textLength="3.3" lengthAdjust="spacingAndGlyphs" stroke="#231f20" stroke-width="0.2">5</text>
<line x1="52.90" y1="644.37" x2="54.90" y2="644.37" stroke="#0c0c0c" stroke-width="0.8"/>
<line x1="52.90" y1="641.67" x2="54.90" y2="641.67" stroke="#0c0c0c" stroke-width="0.8"/>
<line x1="52.90" y1="639.75" x2="54.90" y2="639.75" stroke="#0c0c0c" stroke-width="0.8"/>
<line x1="52.90" y1="638.26" x2="54.90" y2="638.26" stroke="#0c0c0c" stroke-width="0.8"/>
<line x1="52.90" y1="637.04" x2="54.90" y2="637.04" stroke="#0c0c0c" stroke-width="0.8"/>
<line x1="52.90" y1="636.01" x2="54.90" y2="636.01" stroke="#0c0c0c" stroke-width="0.8"/>
<line x1="52.90" y1="635.12" x2="54.90" y2="635.12" stroke="#0c0c0c" stroke-width="0.8"/>
<line x1="52.90" y1="634.33" x2="54.90" y2="634.33" stroke="#0c0c0c" stroke-width="0.8"/>
<line x1="50.90" y1="633.63" x2="54.90" y2="633.63" stroke="#0c0c0c" stroke-width="1.4"/>
<text x="37.90" y="636.03" font-size="9.200000000000001" text-anchor="end" textLength="8.5" lengthAdjust="spacingAndGlyphs" stroke="#231f20" stroke-width="0.2">10</text>
<text x="39.90" y="632.23" font-size="6.8" textLength="3.3" lengthAdjust="spacingAndGlyphs" stroke="#231f20" stroke-width="0.2">6</text>
<line x1="52.90" y1="629.00" x2="54.90" y2="629.00" stroke="#0c0c0c" stroke-width="0.8"/>
<line x1="52.90" y1="626.30" x2="54.90" y2="626.30" stroke="#0c0c0c" stroke-width="0.8"/>
<line x1="52.90" y1="624.38" x2="54.90" y2="624.38" stroke="#0c0c0c" stroke-width="0.8"/>
<line x1="52.90" y1="622.89" x2="54.90" y2="622.89" stroke="#0c0c0c" stroke-width="0.8"/>
<line x1="52.90" y1="621.67" x2="54.90" y2="621.67" stroke="#0c0c0c" stroke-width="0.8"/>
<line x1="52.90" y1="620.64" x2="54.90" y2="620.64" stroke="#0c0c0c" stroke-width="0.8"/>
<line x1="52.90" y1="619.75" x2="54.90" y2="619.75" stroke="#0c0c0c" stroke-width="0.8"/>
<line x1="52.90" y1="618.96" x2="54.90" y2="618.96" stroke="#0c0c0c" stroke-width="0.8"/>
<line x1="50.90" y1="618.26" x2="54.90" y2="618.26" stroke="#0c0c0c" stroke-width="1.4"/>
<text x="37.90" y="620.66" font-size="9.200000000000001" text-anchor="end" textLength="8.5" lengthAdjust="spacingAndGlyphs" stroke="#231f20" stroke-width="0.2">10</text>
<text x="39.90" y="616.86" font-size="6.8" textLength="3.3" lengthAdjust="spacingAndGlyphs" stroke="#231f20" stroke-width="0.2">7</text>
<line x1="52.90" y1="613.63" x2="54.90" y2="613.63" stroke="#0c0c0c" stroke-width="0.8"/>
<line x1="52.90" y1="610.93" x2="54.90" y2="610.93" stroke="#0c0c0c" stroke-width="0.8"/>
<line x1="52.90" y1="609.01" x2="54.90" y2="609.01" stroke="#0c0c0c" stroke-width="0.8"/>
<line x1="52.90" y1="607.52" x2="54.90" y2="607.52" stroke="#0c0c0c" stroke-width="0.8"/>
<line x1="52.90" y1="606.30" x2="54.90" y2="606.30" stroke="#0c0c0c" stroke-width="0.8"/>
<line x1="52.90" y1="605.27" x2="54.90" y2="605.27" stroke="#0c0c0c" stroke-width="0.8"/>
<line x1="52.90" y1="604.38" x2="54.90" y2="604.38" stroke="#0c0c0c" stroke-width="0.8"/>
<line x1="52.90" y1="603.59" x2="54.90" y2="603.59" stroke="#0c0c0c" stroke-width="0.8"/>
<line x1="50.90" y1="602.89" x2="54.90" y2="602.89" stroke="#0c0c0c" stroke-width="1.4"/>
<text x="37.90" y="605.29" font-size="9.200000000000001" text-anchor="end" textLength="8.5" lengthAdjust="spacingAndGlyphs" stroke="#231f20" stroke-width="0.2">10</text>
<text x="39.90" y="601.49" font-size="6.8" textLength="3.3" lengthAdjust="spacingAndGlyphs" stroke="#231f20" stroke-width="0.2">8</text>
<line x1="52.90" y1="598.26" x2="54.90" y2="598.26" stroke="#0c0c0c" stroke-width="0.8"/>
<line x1="52.90" y1="595.56" x2="54.90" y2="595.56" stroke="#0c0c0c" stroke-width="0.8"/>
<line x1="52.90" y1="593.64" x2="54.90" y2="593.64" stroke="#0c0c0c" stroke-width="0.8"/>
<line x1="52.90" y1="592.15" x2="54.90" y2="592.15" stroke="#0c0c0c" stroke-width="0.8"/>
<line x1="52.90" y1="590.93" x2="54.90" y2="590.93" stroke="#0c0c0c" stroke-width="0.8"/>
<line x1="52.90" y1="589.90" x2="54.90" y2="589.90" stroke="#0c0c0c" stroke-width="0.8"/>
<line x1="52.90" y1="589.01" x2="54.90" y2="589.01" stroke="#0c0c0c" stroke-width="0.8"/>
<line x1="52.90" y1="588.22" x2="54.90" y2="588.22" stroke="#0c0c0c" stroke-width="0.8"/>
<line x1="50.90" y1="587.52" x2="54.90" y2="587.52" stroke="#0c0c0c" stroke-width="1.4"/>
<text x="37.90" y="589.92" font-size="9.200000000000001" text-anchor="end" textLength="8.5" lengthAdjust="spacingAndGlyphs" stroke="#231f20" stroke-width="0.2">10</text>
<text x="39.90" y="586.12" font-size="6.8" textLength="3.3" lengthAdjust="spacingAndGlyphs" stroke="#231f20" stroke-width="0.2">9</text>
<line x1="52.90" y1="582.89" x2="54.90" y2="582.89" stroke="#0c0c0c" stroke-width="0.8"/>
<line x1="52.90" y1="580.19" x2="54.90" y2="580.19" stroke="#0c0c0c" stroke-width="0.8"/>
<line x1="52.90" y1="578.27" x2="54.90" y2="578.27" stroke="#0c0c0c" stroke-width="0.8"/>
<line x1="52.90" y1="576.78" x2="54.90" y2="576.78" stroke="#0c0c0c" stroke-width="0.8"/>
<line x1="52.90" y1="575.56" x2="54.90" y2="575.56" stroke="#0c0c0c" stroke-width="0.8"/>
<line x1="52.90" y1="574.53" x2="54.90" y2="574.53" stroke="#0c0c0c" stroke-width="0.8"/>
<line x1="52.90" y1="573.64" x2="54.90" y2="573.64" stroke="#0c0c0c" stroke-width="0.8"/>
<line x1="52.90" y1="572.85" x2="54.90" y2="572.85" stroke="#0c0c0c" stroke-width="0.8"/>
<line x1="50.90" y1="572.15" x2="54.90" y2="572.15" stroke="#0c0c0c" stroke-width="1.4"/>
<text x="37.90" y="574.55" font-size="9.200000000000001" text-anchor="end" textLength="8.5" lengthAdjust="spacingAndGlyphs" stroke="#231f20" stroke-width="0.2">10</text>
<text x="39.90" y="570.75" font-size="6.8" textLength="6.9" lengthAdjust="spacingAndGlyphs" stroke="#231f20" stroke-width="0.2">10</text>
<line x1="52.90" y1="567.52" x2="54.90" y2="567.52" stroke="#0c0c0c" stroke-width="0.8"/>
<line x1="52.90" y1="564.82" x2="54.90" y2="564.82" stroke="#0c0c0c" stroke-width="0.8"/>
<line x1="52.90" y1="562.90" x2="54.90" y2="562.90" stroke="#0c0c0c" stroke-width="0.8"/>
<line x1="52.90" y1="561.41" x2="54.90" y2="561.41" stroke="#0c0c0c" stroke-width="0.8"/>
<line x1="52.90" y1="560.19" x2="54.90" y2="560.19" stroke="#0c0c0c" stroke-width="0.8"/>
<line x1="52.90" y1="559.16" x2="54.90" y2="559.16" stroke="#0c0c0c" stroke-width="0.8"/>
<line x1="52.90" y1="558.27" x2="54.90" y2="558.27" stroke="#0c0c0c" stroke-width="0.8"/>
<line x1="52.90" y1="557.48" x2="54.90" y2="557.48" stroke="#0c0c0c" stroke-width="0.8"/>
<line x1="50.90" y1="556.78" x2="54.90" y2="556.78" stroke="#0c0c0c" stroke-width="1.4"/>
<text x="37.90" y="559.18" font-size="9.200000000000001" text-anchor="end" textLength="8.5" lengthAdjust="spacingAndGlyphs" stroke="#231f20" stroke-width="0.2">10</text>
<text x="39.90" y="555.38" font-size="6.8" textLength="6.9" lengthAdjust="spacingAndGlyphs" stroke="#231f20" stroke-width="0.2">11</text>
<line x1="52.90" y1="552.15" x2="54.90" y2="552.15" stroke="#0c0c0c" stroke-width="0.8"/>
<line x1="52.90" y1="549.45" x2="54.90" y2="549.45" stroke="#0c0c0c" stroke-width="0.8"/>
<line x1="52.90" y1="547.53" x2="54.90" y2="547.53" stroke="#0c0c0c" stroke-width="0.8"/>
<line x1="52.90" y1="546.04" x2="54.90" y2="546.04" stroke="#0c0c0c" stroke-width="0.8"/>
<line x1="52.90" y1="544.82" x2="54.90" y2="544.82" stroke="#0c0c0c" stroke-width="0.8"/>
<line x1="52.90" y1="543.79" x2="54.90" y2="543.79" stroke="#0c0c0c" stroke-width="0.8"/>
<line x1="52.90" y1="542.90" x2="54.90" y2="542.90" stroke="#0c0c0c" stroke-width="0.8"/>
<line x1="52.90" y1="542.11" x2="54.90" y2="542.11" stroke="#0c0c0c" stroke-width="0.8"/>
<line x1="50.90" y1="541.41" x2="54.90" y2="541.41" stroke="#0c0c0c" stroke-width="1.4"/>
<text x="37.90" y="543.81" font-size="9.200000000000001" text-anchor="end" textLength="8.5" lengthAdjust="spacingAndGlyphs" stroke="#231f20" stroke-width="0.2">10</text>
<text x="39.90" y="540.01" font-size="6.8" textLength="6.9" lengthAdjust="spacingAndGlyphs" stroke="#231f20" stroke-width="0.2">12</text>
<line x1="66.30" y1="649.00" x2="66.30" y2="652.80" stroke="#0c0c0c" stroke-width="1.4"/>
<text x="66.30" y="666.20" font-size="10.0" text-anchor="middle" stroke="#231f20" stroke-width="0.2">-1</text>
<line x1="84.08" y1="649.00" x2="84.08" y2="652.80" stroke="#0c0c0c" stroke-width="1.4"/>
<text x="84.08" y="666.20" font-size="10.0" text-anchor="middle" stroke="#231f20" stroke-width="0.2">3</text>
<line x1="101.86" y1="649.00" x2="101.86" y2="652.80" stroke="#0c0c0c" stroke-width="1.4"/>
<text x="101.86" y="666.20" font-size="10.0" text-anchor="middle" stroke="#231f20" stroke-width="0.2">7</text>
<line x1="119.64" y1="649.00" x2="119.64" y2="652.80" stroke="#0c0c0c" stroke-width="1.4"/>
<text x="119.64" y="666.20" font-size="10.0" text-anchor="middle" stroke="#231f20" stroke-width="0.2">10</text>
<line x1="137.42" y1="649.00" x2="137.42" y2="652.80" stroke="#0c0c0c" stroke-width="1.4"/>
<text x="137.42" y="666.20" font-size="10.0" text-anchor="middle" stroke="#231f20" stroke-width="0.2">14</text>
<line x1="155.20" y1="649.00" x2="155.20" y2="652.80" stroke="#0c0c0c" stroke-width="1.4"/>
<text x="155.20" y="666.20" font-size="10.0" text-anchor="middle" stroke="#231f20" stroke-width="0.2">17</text>
<line x1="172.98" y1="649.00" x2="172.98" y2="652.80" stroke="#0c0c0c" stroke-width="1.4"/>
<text x="172.98" y="666.20" font-size="10.0" text-anchor="middle" stroke="#231f20" stroke-width="0.2">21</text>
<line x1="190.76" y1="649.00" x2="190.76" y2="652.80" stroke="#0c0c0c" stroke-width="1.4"/>
<text x="190.76" y="666.20" font-size="10.0" text-anchor="middle" stroke="#231f20" stroke-width="0.2">24</text>
<line x1="208.54" y1="649.00" x2="208.54" y2="652.80" stroke="#0c0c0c" stroke-width="1.4"/>
<text x="208.54" y="666.20" font-size="10.0" text-anchor="middle" stroke="#231f20" stroke-width="0.2">28</text>
<line x1="226.32" y1="649.00" x2="226.32" y2="652.80" stroke="#0c0c0c" stroke-width="1.4"/>
<text x="226.32" y="666.20" font-size="10.0" text-anchor="middle" stroke="#231f20" stroke-width="0.2">35</text>
<text x="146.60" y="682.90" font-size="11.6" text-anchor="middle" textLength="24.4" lengthAdjust="spacingAndGlyphs" stroke="#231f20" stroke-width="0.2">Days</text>
<text x="19.70" y="592.85" font-size="11.6" text-anchor="middle" textLength="20.3" lengthAdjust="spacingAndGlyphs" transform="rotate(-90 19.70 592.85)" stroke="#231f20" stroke-width="0.2">Flux</text>
<polyline points="66.30,609.04 84.08,589.83 101.86,579.53 119.64,570.00 137.42,565.39 155.20,564.31 172.98,564.00 190.76,562.47 208.54,561.85 226.32,556.17" fill="none" stroke="#a8002c" stroke-width="2.3" stroke-linejoin="round" stroke-dasharray="5,3.6"/>
<rect x="63.60" y="606.74" width="5.4" height="4.6" rx="1.6" fill="#a8002c"/>
<rect x="81.38" y="587.53" width="5.4" height="4.6" rx="1.6" fill="#a8002c"/>
<rect x="99.16" y="577.23" width="5.4" height="4.6" rx="1.6" fill="#a8002c"/>
<rect x="116.94" y="567.70" width="5.4" height="4.6" rx="1.6" fill="#a8002c"/>
<rect x="134.72" y="563.09" width="5.4" height="4.6" rx="1.6" fill="#a8002c"/>
<rect x="152.50" y="562.01" width="5.4" height="4.6" rx="1.6" fill="#a8002c"/>
<rect x="170.28" y="561.70" width="5.4" height="4.6" rx="1.6" fill="#a8002c"/>
<rect x="188.06" y="560.17" width="5.4" height="4.6" rx="1.6" fill="#a8002c"/>
<rect x="205.84" y="559.55" width="5.4" height="4.6" rx="1.6" fill="#a8002c"/>
<rect x="223.62" y="553.87" width="5.4" height="4.6" rx="1.6" fill="#a8002c"/>
<polyline points="66.30,610.58 84.08,593.21 101.86,599.05 119.64,625.33 137.42,633.48 155.20,633.02 172.98,634.55 190.76,634.86 208.54,634.86 226.32,632.25" fill="none" stroke="#2e4678" stroke-width="2.1" stroke-linejoin="round"/>
<rect x="64.10" y="608.38" width="4.40" height="4.40" fill="#2e4678"/>
<rect x="81.88" y="591.01" width="4.40" height="4.40" fill="#2e4678"/>
<rect x="99.66" y="596.85" width="4.40" height="4.40" fill="#2e4678"/>
<rect x="117.44" y="623.13" width="4.40" height="4.40" fill="#2e4678"/>
<rect x="135.22" y="631.28" width="4.40" height="4.40" fill="#2e4678"/>
<rect x="153.00" y="630.82" width="4.40" height="4.40" fill="#2e4678"/>
<rect x="170.78" y="632.35" width="4.40" height="4.40" fill="#2e4678"/>
<rect x="188.56" y="632.66" width="4.40" height="4.40" fill="#2e4678"/>
<rect x="206.34" y="632.66" width="4.40" height="4.40" fill="#2e4678"/>
<rect x="224.12" y="630.05" width="4.40" height="4.40" fill="#2e4678"/>
<line x1="84.08" y1="595.36" x2="84.08" y2="602.89" stroke="#64a844" stroke-width="1.2"/>
<line x1="82.28" y1="595.36" x2="85.88" y2="595.36" stroke="#64a844" stroke-width="1.2"/>
<line x1="82.28" y1="602.89" x2="85.88" y2="602.89" stroke="#64a844" stroke-width="1.2"/>
<line x1="155.20" y1="615.95" x2="155.20" y2="636.24" stroke="#64a844" stroke-width="1.2"/>
<line x1="153.40" y1="615.95" x2="157.00" y2="615.95" stroke="#64a844" stroke-width="1.2"/>
<line x1="153.40" y1="636.24" x2="157.00" y2="636.24" stroke="#64a844" stroke-width="1.2"/>
<polyline points="66.30,610.11 84.08,599.51 101.86,629.94 119.64,633.94 137.42,635.63 155.20,616.88 172.98,635.17 190.76,635.47 208.54,636.09 226.32,635.17" fill="none" stroke="#64a844" stroke-width="2.1" stroke-linejoin="round"/>
<path d="M63.70,612.45L68.90,612.45L66.30,607.77Z" fill="#64a844"/>
<path d="M81.48,601.85L86.68,601.85L84.08,597.17Z" fill="#64a844"/>
<path d="M99.26,632.28L104.46,632.28L101.86,627.60Z" fill="#64a844"/>
<path d="M117.04,636.28L122.24,636.28L119.64,631.60Z" fill="#64a844"/>
<path d="M134.82,637.97L140.02,637.97L137.42,633.29Z" fill="#64a844"/>
<path d="M152.60,619.22L157.80,619.22L155.20,614.54Z" fill="#64a844"/>
<path d="M170.38,637.51L175.58,637.51L172.98,632.83Z" fill="#64a844"/>
<path d="M188.16,637.81L193.36,637.81L190.76,633.13Z" fill="#64a844"/>
<path d="M205.94,638.43L211.14,638.43L208.54,633.75Z" fill="#64a844"/>
<path d="M223.72,637.51L228.92,637.51L226.32,632.83Z" fill="#64a844"/>
<line x1="84.08" y1="586.29" x2="84.08" y2="589.06" stroke="#8f88c4" stroke-width="1.2"/>
<line x1="82.28" y1="586.29" x2="85.88" y2="586.29" stroke="#8f88c4" stroke-width="1.2"/>
<line x1="82.28" y1="589.06" x2="85.88" y2="589.06" stroke="#8f88c4" stroke-width="1.2"/>
<line x1="101.86" y1="591.82" x2="101.86" y2="599.20" stroke="#8f88c4" stroke-width="1.2"/>
<line x1="100.06" y1="591.82" x2="103.66" y2="591.82" stroke="#8f88c4" stroke-width="1.2"/>
<line x1="100.06" y1="599.20" x2="103.66" y2="599.20" stroke="#8f88c4" stroke-width="1.2"/>
<line x1="119.64" y1="599.20" x2="119.64" y2="604.58" stroke="#8f88c4" stroke-width="1.2"/>
<line x1="117.84" y1="599.20" x2="121.44" y2="599.20" stroke="#8f88c4" stroke-width="1.2"/>
<line x1="117.84" y1="604.58" x2="121.44" y2="604.58" stroke="#8f88c4" stroke-width="1.2"/>
<line x1="137.42" y1="619.18" x2="137.42" y2="626.56" stroke="#8f88c4" stroke-width="1.2"/>
<line x1="135.62" y1="619.18" x2="139.22" y2="619.18" stroke="#8f88c4" stroke-width="1.2"/>
<line x1="135.62" y1="626.56" x2="139.22" y2="626.56" stroke="#8f88c4" stroke-width="1.2"/>
<line x1="155.20" y1="617.18" x2="155.20" y2="630.40" stroke="#8f88c4" stroke-width="1.2"/>
<line x1="153.40" y1="617.18" x2="157.00" y2="617.18" stroke="#8f88c4" stroke-width="1.2"/>
<line x1="153.40" y1="630.40" x2="157.00" y2="630.40" stroke="#8f88c4" stroke-width="1.2"/>
<polyline points="66.30,608.42 84.08,587.67 101.86,596.43 119.64,601.66 137.42,621.95 155.20,620.72 172.98,629.48 190.76,630.71 208.54,627.94 226.32,627.33" fill="none" stroke="#8f88c4" stroke-width="2.1" stroke-linejoin="round"/>
<path d="M63.70,606.08L68.90,606.08L66.30,610.76Z" fill="#8f88c4"/>
<path d="M81.48,585.33L86.68,585.33L84.08,590.01Z" fill="#8f88c4"/>
<path d="M99.26,594.09L104.46,594.09L101.86,598.77Z" fill="#8f88c4"/>
<path d="M117.04,599.32L122.24,599.32L119.64,604.00Z" fill="#8f88c4"/>
<path d="M134.82,619.61L140.02,619.61L137.42,624.29Z" fill="#8f88c4"/>
<path d="M152.60,618.38L157.80,618.38L155.20,623.06Z" fill="#8f88c4"/>
<path d="M170.38,627.14L175.58,627.14L172.98,631.82Z" fill="#8f88c4"/>
<path d="M188.16,628.37L193.36,628.37L190.76,633.05Z" fill="#8f88c4"/>
<path d="M205.94,625.60L211.14,625.60L208.54,630.28Z" fill="#8f88c4"/>
<path d="M223.72,624.99L228.92,624.99L226.32,629.67Z" fill="#8f88c4"/>
<polyline points="66.30,605.96 84.08,591.21 101.86,608.42 119.64,628.25 137.42,630.56 155.20,632.40 172.98,632.25 190.76,633.48 208.54,633.78 226.32,634.55" fill="none" stroke="#df8c16" stroke-width="2.1" stroke-linejoin="round"/>
<path d="M66.30,603.36L68.90,605.96L66.30,608.56L63.70,605.96Z" fill="#df8c16"/>
<path d="M84.08,588.61L86.68,591.21L84.08,593.81L81.48,591.21Z" fill="#df8c16"/>
<path d="M101.86,605.82L104.46,608.42L101.86,611.02L99.26,608.42Z" fill="#df8c16"/>
<path d="M119.64,625.65L122.24,628.25L119.64,630.85L117.04,628.25Z" fill="#df8c16"/>
<path d="M137.42,627.96L140.02,630.56L137.42,633.16L134.82,630.56Z" fill="#df8c16"/>
<path d="M155.20,629.80L157.80,632.40L155.20,635.00L152.60,632.40Z" fill="#df8c16"/>
<path d="M172.98,629.65L175.58,632.25L172.98,634.85L170.38,632.25Z" fill="#df8c16"/>
<path d="M190.76,630.88L193.36,633.48L190.76,636.08L188.16,633.48Z" fill="#df8c16"/>
<path d="M208.54,631.18L211.14,633.78L208.54,636.38L205.94,633.78Z" fill="#df8c16"/>
<path d="M226.32,631.95L228.92,634.55L226.32,637.15L223.72,634.55Z" fill="#df8c16"/>
<line x1="52.40" y1="695.30" x2="65.80" y2="695.30" stroke="#a8002c" stroke-width="1.5"/>
<circle cx="59.00" cy="695.30" r="1.80" fill="#a8002c"/>
<text x="69.60" y="698.00" font-size="9.6" textLength="17.3" lengthAdjust="spacingAndGlyphs" stroke="#231f20" stroke-width="0.2">UTD</text>
<line x1="120.90" y1="695.30" x2="134.30" y2="695.30" stroke="#2e4678" stroke-width="1.5"/>
<rect x="125.70" y="693.50" width="3.60" height="3.60" fill="#2e4678"/>
<text x="138.60" y="698.00" font-size="9.6" textLength="28.8" lengthAdjust="spacingAndGlyphs" stroke="#231f20" stroke-width="0.2">CAR-37</text>
<line x1="190.00" y1="695.30" x2="203.40" y2="695.30" stroke="#64a844" stroke-width="1.5"/>
<path d="M194.80,696.92L198.40,696.92L196.60,693.68Z" fill="#64a844"/>
<text x="207.50" y="698.00" font-size="9.6" textLength="28.4" lengthAdjust="spacingAndGlyphs" stroke="#231f20" stroke-width="0.2">CAR-19</text>
<line x1="52.40" y1="709.80" x2="65.80" y2="709.80" stroke="#8f88c4" stroke-width="1.5"/>
<path d="M57.20,708.18L60.80,708.18L59.00,711.42Z" fill="#8f88c4"/>
<text x="69.60" y="712.90" font-size="9.6" textLength="42.3" lengthAdjust="spacingAndGlyphs" stroke="#231f20" stroke-width="0.2">CAR-19-37</text>
<line x1="120.90" y1="709.80" x2="134.30" y2="709.80" stroke="#df8c16" stroke-width="1.5"/>
<path d="M127.50,708.00L129.30,709.80L127.50,711.60L125.70,709.80Z" fill="#df8c16"/>
<text x="138.60" y="712.90" font-size="9.6" textLength="41.8" lengthAdjust="spacingAndGlyphs" stroke="#231f20" stroke-width="0.2">CAR-37-19</text>
<line x1="308.70" y1="543.00" x2="308.70" y2="649.60" stroke="#0c0c0c" stroke-width="1.4"/>
<line x1="308.70" y1="649.00" x2="475.00" y2="649.00" stroke="#0c0c0c" stroke-width="1.4"/>
<line x1="304.80" y1="546.75" x2="308.70" y2="546.75" stroke="#0c0c0c" stroke-width="1.4"/>
<text x="301.30" y="550.30" font-size="10.0" text-anchor="end" stroke="#231f20" stroke-width="0.2">1000</text>
<line x1="304.80" y1="572.30" x2="308.70" y2="572.30" stroke="#0c0c0c" stroke-width="1.4"/>
<text x="301.30" y="575.85" font-size="10.0" text-anchor="end" stroke="#231f20" stroke-width="0.2">100</text>
<line x1="306.70" y1="564.61" x2="308.70" y2="564.61" stroke="#0c0c0c" stroke-width="0.8"/>
<line x1="306.70" y1="560.11" x2="308.70" y2="560.11" stroke="#0c0c0c" stroke-width="0.8"/>
<line x1="306.70" y1="556.92" x2="308.70" y2="556.92" stroke="#0c0c0c" stroke-width="0.8"/>
<line x1="306.70" y1="554.44" x2="308.70" y2="554.44" stroke="#0c0c0c" stroke-width="0.8"/>
<line x1="306.70" y1="552.42" x2="308.70" y2="552.42" stroke="#0c0c0c" stroke-width="0.8"/>
<line x1="306.70" y1="550.71" x2="308.70" y2="550.71" stroke="#0c0c0c" stroke-width="0.8"/>
<line x1="306.70" y1="549.23" x2="308.70" y2="549.23" stroke="#0c0c0c" stroke-width="0.8"/>
<line x1="306.70" y1="547.92" x2="308.70" y2="547.92" stroke="#0c0c0c" stroke-width="0.8"/>
<line x1="304.80" y1="597.85" x2="308.70" y2="597.85" stroke="#0c0c0c" stroke-width="1.4"/>
<text x="301.30" y="601.40" font-size="10.0" text-anchor="end" stroke="#231f20" stroke-width="0.2">10</text>
<line x1="306.70" y1="590.16" x2="308.70" y2="590.16" stroke="#0c0c0c" stroke-width="0.8"/>
<line x1="306.70" y1="585.66" x2="308.70" y2="585.66" stroke="#0c0c0c" stroke-width="0.8"/>
<line x1="306.70" y1="582.47" x2="308.70" y2="582.47" stroke="#0c0c0c" stroke-width="0.8"/>
<line x1="306.70" y1="579.99" x2="308.70" y2="579.99" stroke="#0c0c0c" stroke-width="0.8"/>
<line x1="306.70" y1="577.97" x2="308.70" y2="577.97" stroke="#0c0c0c" stroke-width="0.8"/>
<line x1="306.70" y1="576.26" x2="308.70" y2="576.26" stroke="#0c0c0c" stroke-width="0.8"/>
<line x1="306.70" y1="574.78" x2="308.70" y2="574.78" stroke="#0c0c0c" stroke-width="0.8"/>
<line x1="306.70" y1="573.47" x2="308.70" y2="573.47" stroke="#0c0c0c" stroke-width="0.8"/>
<line x1="304.80" y1="623.40" x2="308.70" y2="623.40" stroke="#0c0c0c" stroke-width="1.4"/>
<text x="301.30" y="626.95" font-size="10.0" text-anchor="end" stroke="#231f20" stroke-width="0.2">1</text>
<line x1="306.70" y1="615.71" x2="308.70" y2="615.71" stroke="#0c0c0c" stroke-width="0.8"/>
<line x1="306.70" y1="611.21" x2="308.70" y2="611.21" stroke="#0c0c0c" stroke-width="0.8"/>
<line x1="306.70" y1="608.02" x2="308.70" y2="608.02" stroke="#0c0c0c" stroke-width="0.8"/>
<line x1="306.70" y1="605.54" x2="308.70" y2="605.54" stroke="#0c0c0c" stroke-width="0.8"/>
<line x1="306.70" y1="603.52" x2="308.70" y2="603.52" stroke="#0c0c0c" stroke-width="0.8"/>
<line x1="306.70" y1="601.81" x2="308.70" y2="601.81" stroke="#0c0c0c" stroke-width="0.8"/>
<line x1="306.70" y1="600.33" x2="308.70" y2="600.33" stroke="#0c0c0c" stroke-width="0.8"/>
<line x1="306.70" y1="599.02" x2="308.70" y2="599.02" stroke="#0c0c0c" stroke-width="0.8"/>
<line x1="304.80" y1="648.95" x2="308.70" y2="648.95" stroke="#0c0c0c" stroke-width="1.4"/>
<text x="301.30" y="652.50" font-size="10.0" text-anchor="end" stroke="#231f20" stroke-width="0.2">0.1</text>
<line x1="306.70" y1="641.26" x2="308.70" y2="641.26" stroke="#0c0c0c" stroke-width="0.8"/>
<line x1="306.70" y1="636.76" x2="308.70" y2="636.76" stroke="#0c0c0c" stroke-width="0.8"/>
<line x1="306.70" y1="633.57" x2="308.70" y2="633.57" stroke="#0c0c0c" stroke-width="0.8"/>
<line x1="306.70" y1="631.09" x2="308.70" y2="631.09" stroke="#0c0c0c" stroke-width="0.8"/>
<line x1="306.70" y1="629.07" x2="308.70" y2="629.07" stroke="#0c0c0c" stroke-width="0.8"/>
<line x1="306.70" y1="627.36" x2="308.70" y2="627.36" stroke="#0c0c0c" stroke-width="0.8"/>
<line x1="306.70" y1="625.88" x2="308.70" y2="625.88" stroke="#0c0c0c" stroke-width="0.8"/>
<line x1="306.70" y1="624.57" x2="308.70" y2="624.57" stroke="#0c0c0c" stroke-width="0.8"/>
<line x1="324.10" y1="649.00" x2="324.10" y2="652.80" stroke="#0c0c0c" stroke-width="1.4"/>
<text x="324.10" y="666.20" font-size="10.0" text-anchor="middle" stroke="#231f20" stroke-width="0.2">7</text>
<line x1="357.55" y1="649.00" x2="357.55" y2="652.80" stroke="#0c0c0c" stroke-width="1.4"/>
<text x="357.55" y="666.20" font-size="10.0" text-anchor="middle" stroke="#231f20" stroke-width="0.2">14</text>
<line x1="391.00" y1="649.00" x2="391.00" y2="652.80" stroke="#0c0c0c" stroke-width="1.4"/>
<text x="391.00" y="666.20" font-size="10.0" text-anchor="middle" stroke="#231f20" stroke-width="0.2">21</text>
<line x1="424.45" y1="649.00" x2="424.45" y2="652.80" stroke="#0c0c0c" stroke-width="1.4"/>
<text x="424.45" y="666.20" font-size="10.0" text-anchor="middle" stroke="#231f20" stroke-width="0.2">28</text>
<line x1="457.90" y1="649.00" x2="457.90" y2="652.80" stroke="#0c0c0c" stroke-width="1.4"/>
<text x="457.90" y="666.20" font-size="10.0" text-anchor="middle" stroke="#231f20" stroke-width="0.2">35</text>
<text x="391.30" y="682.90" font-size="11.6" text-anchor="middle" textLength="24.4" lengthAdjust="spacingAndGlyphs" stroke="#231f20" stroke-width="0.2">Days</text>
<text x="271.00" y="596.20" font-size="11.6" text-anchor="middle" textLength="103.4" lengthAdjust="spacingAndGlyphs" transform="rotate(-90 271.00 596.20)" stroke="#231f20" stroke-width="0.2">CD3+ CAR+ T cell/ul</text>
<circle cx="312.50" cy="614.70" r="1.85" fill="#a8002c"/>
<circle cx="312.50" cy="620.20" r="1.85" fill="#a8002c"/>
<circle cx="315.00" cy="626.30" r="1.85" fill="#a8002c"/>
<circle cx="311.00" cy="629.40" r="1.85" fill="#a8002c"/>
<circle cx="312.00" cy="631.60" r="1.85" fill="#a8002c"/>
<circle cx="310.00" cy="628.50" r="1.85" fill="#a8002c"/>
<line x1="309.50" y1="626.30" x2="315.50" y2="626.30" stroke="#a8002c" stroke-width="1.3"/>
<line x1="312.50" y1="620.00" x2="312.50" y2="632.00" stroke="#a8002c" stroke-width="1.3"/>
<line x1="311.10" y1="620.00" x2="313.90" y2="620.00" stroke="#a8002c" stroke-width="1.2"/>
<line x1="311.10" y1="632.00" x2="313.90" y2="632.00" stroke="#a8002c" stroke-width="1.2"/>
<rect x="316.65" y="593.25" width="3.70" height="3.70" fill="#2e4678"/>
<rect x="316.65" y="600.65" width="3.70" height="3.70" fill="#2e4678"/>
<rect x="316.15" y="602.95" width="3.70" height="3.70" fill="#2e4678"/>
<rect x="314.15" y="605.85" width="3.70" height="3.70" fill="#2e4678"/>
<rect x="318.15" y="606.75" width="3.70" height="3.70" fill="#2e4678"/>
<rect x="320.15" y="608.45" width="3.70" height="3.70" fill="#2e4678"/>
<rect x="315.15" y="608.95" width="3.70" height="3.70" fill="#2e4678"/>
<path d="M318.15,569.37L321.85,569.37L320.00,566.04Z" fill="#64a844"/>
<path d="M322.15,569.96L325.85,569.96L324.00,566.63Z" fill="#64a844"/>
<path d="M327.15,569.37L330.85,569.37L329.00,566.04Z" fill="#64a844"/>
<path d="M322.15,579.87L325.85,579.87L324.00,576.54Z" fill="#64a844"/>
<path d="M326.15,583.94L329.85,583.94L328.00,587.26Z" fill="#8f88c4"/>
<path d="M331.15,583.94L334.85,583.94L333.00,587.26Z" fill="#8f88c4"/>
<path d="M328.15,587.63L331.85,587.63L330.00,590.96Z" fill="#8f88c4"/>
<path d="M325.15,592.04L328.85,592.04L327.00,595.37Z" fill="#8f88c4"/>
<path d="M329.15,590.34L332.85,590.34L331.00,593.66Z" fill="#8f88c4"/>
<path d="M331.15,595.94L334.85,595.94L333.00,599.26Z" fill="#8f88c4"/>
<path d="M328.15,603.63L331.85,603.63L330.00,606.96Z" fill="#8f88c4"/>
<line x1="327.40" y1="592.00" x2="333.40" y2="592.00" stroke="#8f88c4" stroke-width="1.3"/>
<line x1="330.40" y1="587.00" x2="330.40" y2="597.00" stroke="#8f88c4" stroke-width="1.3"/>
<line x1="329.00" y1="587.00" x2="331.80" y2="587.00" stroke="#8f88c4" stroke-width="1.2"/>
<line x1="329.00" y1="597.00" x2="331.80" y2="597.00" stroke="#8f88c4" stroke-width="1.2"/>
<path d="M336.00,584.65L337.85,586.50L336.00,588.35L334.15,586.50Z" fill="#df8c16"/>
<path d="M335.00,586.65L336.85,588.50L335.00,590.35L333.15,588.50Z" fill="#df8c16"/>
<path d="M340.00,589.15L341.85,591.00L340.00,592.85L338.15,591.00Z" fill="#df8c16"/>
<path d="M338.00,587.95L339.85,589.80L338.00,591.65L336.15,589.80Z" fill="#df8c16"/>
<path d="M335.00,591.85L336.85,593.70L335.00,595.55L333.15,593.70Z" fill="#df8c16"/>
<circle cx="346.00" cy="607.70" r="1.85" fill="#a8002c"/>
<circle cx="348.50" cy="611.30" r="1.85" fill="#a8002c"/>
<circle cx="344.50" cy="613.90" r="1.85" fill="#a8002c"/>
<circle cx="346.00" cy="615.70" r="1.85" fill="#a8002c"/>
<circle cx="346.00" cy="619.60" r="1.85" fill="#a8002c"/>
<circle cx="348.50" cy="625.70" r="1.85" fill="#a8002c"/>
<circle cx="345.00" cy="627.90" r="1.85" fill="#a8002c"/>
<rect x="350.15" y="556.45" width="3.70" height="3.70" fill="#2e4678"/>
<rect x="352.15" y="562.55" width="3.70" height="3.70" fill="#2e4678"/>
<rect x="349.15" y="564.15" width="3.70" height="3.70" fill="#2e4678"/>
<rect x="347.15" y="566.35" width="3.70" height="3.70" fill="#2e4678"/>
<rect x="348.15" y="567.45" width="3.70" height="3.70" fill="#2e4678"/>
<rect x="350.65" y="571.35" width="3.70" height="3.70" fill="#2e4678"/>
<rect x="350.15" y="581.05" width="3.70" height="3.70" fill="#2e4678"/>
<path d="M355.15,565.46L358.85,565.46L357.00,562.13Z" fill="#64a844"/>
<path d="M358.15,568.26L361.85,568.26L360.00,564.94Z" fill="#64a844"/>
<path d="M354.15,570.46L357.85,570.46L356.00,567.13Z" fill="#64a844"/>
<path d="M356.15,571.37L359.85,571.37L358.00,568.04Z" fill="#64a844"/>
<path d="M356.15,578.16L359.85,578.16L358.00,574.84Z" fill="#64a844"/>
<path d="M359.15,562.13L362.85,562.13L361.00,565.46Z" fill="#8f88c4"/>
<path d="M363.15,562.13L366.85,562.13L365.00,565.46Z" fill="#8f88c4"/>
<path d="M361.15,564.94L364.85,564.94L363.00,568.26Z" fill="#8f88c4"/>
<path d="M362.15,567.63L365.85,567.63L364.00,570.96Z" fill="#8f88c4"/>
<path d="M362.15,571.54L365.85,571.54L364.00,574.87Z" fill="#8f88c4"/>
<path d="M369.50,564.15L371.35,566.00L369.50,567.85L367.65,566.00Z" fill="#df8c16"/>
<path d="M371.00,565.85L372.85,567.70L371.00,569.55L369.15,567.70Z" fill="#df8c16"/>
<path d="M372.00,568.55L373.85,570.40L372.00,572.25L370.15,570.40Z" fill="#df8c16"/>
<path d="M368.50,571.95L370.35,573.80L368.50,575.65L366.65,573.80Z" fill="#df8c16"/>
<circle cx="379.50" cy="610.40" r="1.85" fill="#a8002c"/>
<circle cx="382.00" cy="612.30" r="1.85" fill="#a8002c"/>
<circle cx="378.00" cy="615.90" r="1.85" fill="#a8002c"/>
<circle cx="380.00" cy="618.00" r="1.85" fill="#a8002c"/>
<circle cx="376.50" cy="622.40" r="1.85" fill="#a8002c"/>
<circle cx="381.00" cy="623.80" r="1.85" fill="#a8002c"/>
<circle cx="379.50" cy="633.20" r="1.85" fill="#a8002c"/>
<line x1="376.50" y1="618.00" x2="382.50" y2="618.00" stroke="#a8002c" stroke-width="1.3"/>
<line x1="379.50" y1="614.00" x2="379.50" y2="621.00" stroke="#a8002c" stroke-width="1.3"/>
<line x1="378.10" y1="614.00" x2="380.90" y2="614.00" stroke="#a8002c" stroke-width="1.2"/>
<line x1="378.10" y1="621.00" x2="380.90" y2="621.00" stroke="#a8002c" stroke-width="1.2"/>
<rect x="383.15" y="568.15" width="3.70" height="3.70" fill="#2e4678"/>
<rect x="383.15" y="608.55" width="3.70" height="3.70" fill="#2e4678"/>
<rect x="380.65" y="621.65" width="3.70" height="3.70" fill="#2e4678"/>
<rect x="383.35" y="621.65" width="3.70" height="3.70" fill="#2e4678"/>
<rect x="386.05" y="621.65" width="3.70" height="3.70" fill="#2e4678"/>
<rect x="383.15" y="643.35" width="3.70" height="3.70" fill="#2e4678"/>
<line x1="382.00" y1="587.20" x2="388.00" y2="587.20" stroke="#2e4678" stroke-width="1.3"/>
<line x1="385.00" y1="580.30" x2="385.00" y2="604.10" stroke="#2e4678" stroke-width="1.3"/>
<line x1="383.60" y1="580.30" x2="386.40" y2="580.30" stroke="#2e4678" stroke-width="1.2"/>
<line x1="383.60" y1="604.10" x2="386.40" y2="604.10" stroke="#2e4678" stroke-width="1.2"/>
<path d="M389.15,571.66L392.85,571.66L391.00,568.34Z" fill="#64a844"/>
<path d="M387.15,576.46L390.85,576.46L389.00,573.13Z" fill="#64a844"/>
<path d="M391.15,576.46L394.85,576.46L393.00,573.13Z" fill="#64a844"/>
<path d="M389.15,578.56L392.85,578.56L391.00,575.24Z" fill="#64a844"/>
<path d="M389.15,584.06L392.85,584.06L391.00,580.74Z" fill="#64a844"/>
<path d="M393.15,576.63L396.85,576.63L395.00,579.96Z" fill="#8f88c4"/>
<path d="M396.15,577.34L399.85,577.34L398.00,580.66Z" fill="#8f88c4"/>
<path d="M395.15,581.44L398.85,581.44L397.00,584.76Z" fill="#8f88c4"/>
<path d="M395.15,584.94L398.85,584.94L397.00,588.26Z" fill="#8f88c4"/>
<path d="M403.00,560.15L404.85,562.00L403.00,563.85L401.15,562.00Z" fill="#df8c16"/>
<path d="M400.00,566.45L401.85,568.30L400.00,570.15L398.15,568.30Z" fill="#df8c16"/>
<path d="M403.00,565.05L404.85,566.90L403.00,568.75L401.15,566.90Z" fill="#df8c16"/>
<path d="M406.00,567.15L407.85,569.00L406.00,570.85L404.15,569.00Z" fill="#df8c16"/>
<path d="M403.00,568.45L404.85,570.30L403.00,572.15L401.15,570.30Z" fill="#df8c16"/>
<circle cx="410.50" cy="613.80" r="1.85" fill="#a8002c"/>
<circle cx="414.00" cy="615.60" r="1.85" fill="#a8002c"/>
<circle cx="416.00" cy="618.60" r="1.85" fill="#a8002c"/>
<circle cx="412.00" cy="620.70" r="1.85" fill="#a8002c"/>
<circle cx="413.00" cy="622.80" r="1.85" fill="#a8002c"/>
<circle cx="413.00" cy="626.20" r="1.85" fill="#a8002c"/>
<rect x="417.15" y="580.15" width="3.70" height="3.70" fill="#2e4678"/>
<rect x="417.15" y="583.15" width="3.70" height="3.70" fill="#2e4678"/>
<rect x="417.15" y="586.15" width="3.70" height="3.70" fill="#2e4678"/>
<rect x="417.15" y="589.65" width="3.70" height="3.70" fill="#2e4678"/>
<rect x="417.15" y="592.75" width="3.70" height="3.70" fill="#2e4678"/>
<path d="M422.65,580.96L426.35,580.96L424.50,577.63Z" fill="#64a844"/>
<path d="M419.15,583.06L422.85,583.06L421.00,579.74Z" fill="#64a844"/>
<path d="M426.15,583.06L429.85,583.06L428.00,579.74Z" fill="#64a844"/>
<path d="M422.65,584.46L426.35,584.46L424.50,581.13Z" fill="#64a844"/>
<path d="M422.65,586.46L426.35,586.46L424.50,583.13Z" fill="#64a844"/>
<path d="M428.65,594.24L432.35,594.24L430.50,597.56Z" fill="#8f88c4"/>
<path d="M428.65,597.63L432.35,597.63L430.50,600.96Z" fill="#8f88c4"/>
<path d="M428.65,599.74L432.35,599.74L430.50,603.06Z" fill="#8f88c4"/>
<path d="M428.65,609.34L432.35,609.34L430.50,612.66Z" fill="#8f88c4"/>
<path d="M436.70,553.65L438.55,555.50L436.70,557.35L434.85,555.50Z" fill="#df8c16"/>
<path d="M436.70,561.95L438.55,563.80L436.70,565.65L434.85,563.80Z" fill="#df8c16"/>
<path d="M436.70,579.55L438.55,581.40L436.70,583.25L434.85,581.40Z" fill="#df8c16"/>
<path d="M439.00,582.35L440.85,584.20L439.00,586.05L437.15,584.20Z" fill="#df8c16"/>
<path d="M435.00,585.15L436.85,587.00L435.00,588.85L433.15,587.00Z" fill="#df8c16"/>
<line x1="433.70" y1="567.60" x2="439.70" y2="567.60" stroke="#df8c16" stroke-width="1.3"/>
<line x1="436.70" y1="562.80" x2="436.70" y2="576.20" stroke="#df8c16" stroke-width="1.3"/>
<line x1="435.30" y1="562.80" x2="438.10" y2="562.80" stroke="#df8c16" stroke-width="1.2"/>
<line x1="435.30" y1="576.20" x2="438.10" y2="576.20" stroke="#df8c16" stroke-width="1.2"/>
<circle cx="446.40" cy="616.00" r="1.85" fill="#a8002c"/>
<circle cx="446.40" cy="619.40" r="1.85" fill="#a8002c"/>
<circle cx="446.40" cy="622.90" r="1.85" fill="#a8002c"/>
<circle cx="446.40" cy="625.60" r="1.85" fill="#a8002c"/>
<rect x="450.75" y="584.15" width="3.70" height="3.70" fill="#2e4678"/>
<rect x="450.75" y="588.15" width="3.70" height="3.70" fill="#2e4678"/>
<rect x="450.75" y="600.95" width="3.70" height="3.70" fill="#2e4678"/>
<rect x="450.75" y="607.15" width="3.70" height="3.70" fill="#2e4678"/>
<rect x="450.75" y="619.65" width="3.70" height="3.70" fill="#2e4678"/>
<line x1="449.60" y1="595.00" x2="455.60" y2="595.00" stroke="#2e4678" stroke-width="1.3"/>
<line x1="452.60" y1="590.00" x2="452.60" y2="598.50" stroke="#2e4678" stroke-width="1.3"/>
<line x1="451.20" y1="590.00" x2="454.00" y2="590.00" stroke="#2e4678" stroke-width="1.2"/>
<line x1="451.20" y1="598.50" x2="454.00" y2="598.50" stroke="#2e4678" stroke-width="1.2"/>
<path d="M456.25,565.87L459.95,565.87L458.10,562.54Z" fill="#64a844"/>
<path d="M456.15,586.56L459.85,586.56L458.00,583.24Z" fill="#64a844"/>
<path d="M456.15,589.96L459.85,589.96L458.00,586.63Z" fill="#64a844"/>
<path d="M453.15,596.87L456.85,596.87L455.00,593.54Z" fill="#64a844"/>
<path d="M459.15,596.87L462.85,596.87L461.00,593.54Z" fill="#64a844"/>
<line x1="455.00" y1="579.40" x2="461.00" y2="579.40" stroke="#64a844" stroke-width="1.3"/>
<line x1="458.00" y1="574.50" x2="458.00" y2="586.00" stroke="#64a844" stroke-width="1.3"/>
<line x1="456.60" y1="574.50" x2="459.40" y2="574.50" stroke="#64a844" stroke-width="1.2"/>
<line x1="456.60" y1="586.00" x2="459.40" y2="586.00" stroke="#64a844" stroke-width="1.2"/>
<path d="M462.55,555.24L466.25,555.24L464.40,558.56Z" fill="#8f88c4"/>
<path d="M462.55,562.13L466.25,562.13L464.40,565.46Z" fill="#8f88c4"/>
<path d="M460.15,564.54L463.85,564.54L462.00,567.87Z" fill="#8f88c4"/>
<path d="M464.15,565.24L467.85,565.24L466.00,568.56Z" fill="#8f88c4"/>
<path d="M462.55,567.34L466.25,567.34L464.40,570.66Z" fill="#8f88c4"/>
<path d="M461.15,569.44L464.85,569.44L463.00,572.76Z" fill="#8f88c4"/>
<path d="M459.15,575.63L462.85,575.63L461.00,578.96Z" fill="#8f88c4"/>
<path d="M465.15,574.94L468.85,574.94L467.00,578.26Z" fill="#8f88c4"/>
<line x1="461.40" y1="567.00" x2="467.40" y2="567.00" stroke="#8f88c4" stroke-width="1.3"/>
<line x1="464.40" y1="563.00" x2="464.40" y2="571.00" stroke="#8f88c4" stroke-width="1.3"/>
<line x1="463.00" y1="563.00" x2="465.80" y2="563.00" stroke="#8f88c4" stroke-width="1.2"/>
<line x1="463.00" y1="571.00" x2="465.80" y2="571.00" stroke="#8f88c4" stroke-width="1.2"/>
<path d="M472.00,586.45L473.85,588.30L472.00,590.15L470.15,588.30Z" fill="#df8c16"/>
<path d="M468.00,588.55L469.85,590.40L468.00,592.25L466.15,590.40Z" fill="#df8c16"/>
<path d="M470.00,591.35L471.85,593.20L470.00,595.05L468.15,593.20Z" fill="#df8c16"/>
<path d="M472.00,596.15L473.85,598.00L472.00,599.85L470.15,598.00Z" fill="#df8c16"/>
<path d="M468.00,598.95L469.85,600.80L468.00,602.65L466.15,600.80Z" fill="#df8c16"/>
<circle cx="313.90" cy="694.90" r="1.90" fill="#a8002c"/>
<text x="319.30" y="698.00" font-size="9.6" textLength="18.1" lengthAdjust="spacingAndGlyphs" stroke="#231f20" stroke-width="0.2">UTD</text>
<rect x="370.70" y="693.00" width="3.80" height="3.80" fill="#2e4678"/>
<text x="378.70" y="698.00" font-size="9.6" textLength="29.5" lengthAdjust="spacingAndGlyphs" stroke="#231f20" stroke-width="0.2">CAR-37</text>
<path d="M429.40,696.61L433.20,696.61L431.30,693.19Z" fill="#64a844"/>
<text x="436.70" y="698.00" font-size="9.6" textLength="30.2" lengthAdjust="spacingAndGlyphs" stroke="#231f20" stroke-width="0.2">CAR-19</text>
<path d="M312.00,707.19L315.80,707.19L313.90,710.61Z" fill="#8f88c4"/>
<text x="319.30" y="712.80" font-size="9.6" textLength="42.8" lengthAdjust="spacingAndGlyphs" stroke="#231f20" stroke-width="0.2">CAR-19-37</text>
<path d="M372.60,707.00L374.50,708.90L372.60,710.80L370.70,708.90Z" fill="#df8c16"/>
<text x="378.70" y="712.80" font-size="9.6" textLength="42.2" lengthAdjust="spacingAndGlyphs" stroke="#231f20" stroke-width="0.2">CAR-37-19</text>
</svg>
</body></html>
